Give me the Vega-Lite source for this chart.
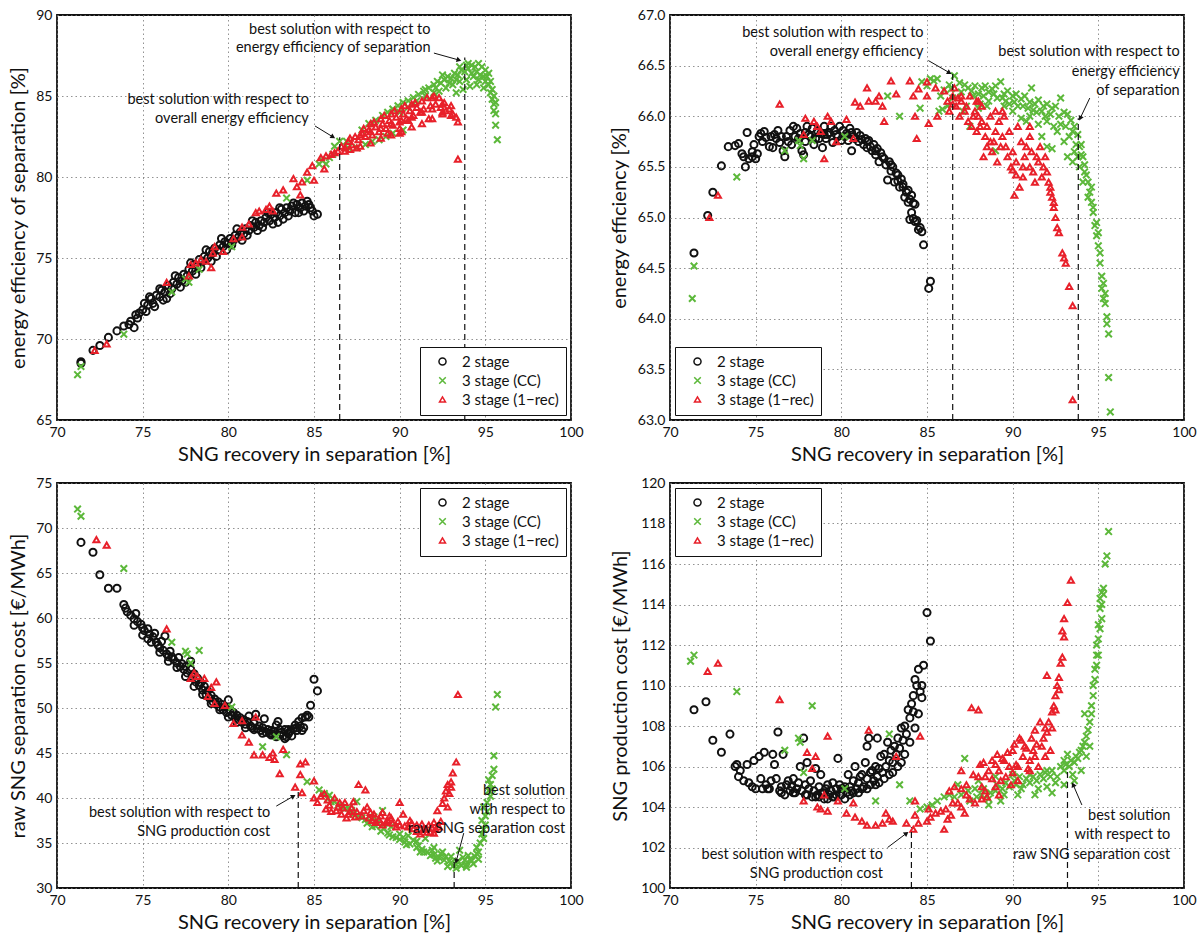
{
"$schema": "https://vega.github.io/schema/vega-lite/v6.json",
"padding": {"left": 7, "top": 7, "right": 0, "bottom": 0},
"spacing": 10,
"config": {
  "font": "Lato",
  "view": {"stroke": "#111", "strokeWidth": 1.8},
  "axis": {"domain": false, "ticks": false, "labelFont": "Lato", "labelFontSize": 14, "labelColor": "#111", "labelPadding": 5, "titleFont": "Lato", "titleFontSize": 20, "titleFontWeight": "normal", "titleColor": "#111", "gridColor": "#777", "gridDash": [1.5, 3], "gridWidth": 0.8, "labelOverlap": false, "labelFlush": false},
  "axisX": {"titlePadding": 5},
  "legend": {"strokeColor": "#111", "fillColor": "white", "padding": 7, "labelFont": "Lato", "labelFontSize": 15, "labelColor": "#111", "rowPadding": 3, "labelOffset": 12, "symbolOffset": 8, "offset": 5}
},
"datasets": {
"p1": [
{"s":"2 stage","x":71.4,"y":68.6},{"s":"2 stage","x":71.4,"y":68.5},{"s":"2 stage","x":72.1,"y":69.3},{"s":"2 stage","x":72.5,"y":69.6},{"s":"2 stage","x":73.0,"y":70.1},{"s":"2 stage","x":73.5,"y":70.5},{"s":"2 stage","x":73.9,"y":70.8},{"s":"2 stage","x":74.2,"y":70.9},{"s":"2 stage","x":74.5,"y":70.7},{"s":"2 stage","x":74.6,"y":71.5},{"s":"2 stage","x":74.8,"y":71.6},{"s":"2 stage","x":75.0,"y":71.8},{"s":"2 stage","x":75.1,"y":72.2},{"s":"2 stage","x":75.3,"y":72.1},{"s":"2 stage","x":75.5,"y":72.5},{"s":"2 stage","x":75.6,"y":72.2},{"s":"2 stage","x":75.8,"y":72.7},{"s":"2 stage","x":76.0,"y":72.6},{"s":"2 stage","x":76.1,"y":73.0},{"s":"2 stage","x":76.3,"y":72.9},{"s":"2 stage","x":76.4,"y":72.5},{"s":"2 stage","x":76.5,"y":73.3},{"s":"2 stage","x":76.7,"y":73.1},{"s":"2 stage","x":76.8,"y":73.5},{"s":"2 stage","x":77.0,"y":73.4},{"s":"2 stage","x":77.1,"y":73.8},{"s":"2 stage","x":77.3,"y":73.6},{"s":"2 stage","x":77.4,"y":74.0},{"s":"2 stage","x":77.6,"y":73.9},{"s":"2 stage","x":77.7,"y":74.3},{"s":"2 stage","x":77.9,"y":74.2},{"s":"2 stage","x":78.0,"y":74.6},{"s":"2 stage","x":78.2,"y":74.5},{"s":"2 stage","x":78.3,"y":74.9},{"s":"2 stage","x":78.5,"y":74.8},{"s":"2 stage","x":78.6,"y":75.1},{"s":"2 stage","x":78.8,"y":75.0},{"s":"2 stage","x":78.9,"y":75.4},{"s":"2 stage","x":79.1,"y":75.3},{"s":"2 stage","x":79.2,"y":75.6},{"s":"2 stage","x":79.4,"y":75.5},{"s":"2 stage","x":79.5,"y":75.8},{"s":"2 stage","x":79.7,"y":75.7},{"s":"2 stage","x":79.8,"y":76.0},{"s":"2 stage","x":80.0,"y":75.9},{"s":"2 stage","x":80.1,"y":76.2},{"s":"2 stage","x":80.3,"y":76.1},{"s":"2 stage","x":80.4,"y":76.4},{"s":"2 stage","x":80.6,"y":76.3},{"s":"2 stage","x":80.7,"y":76.6},{"s":"2 stage","x":80.9,"y":76.5},{"s":"2 stage","x":81.0,"y":76.8},{"s":"2 stage","x":81.2,"y":76.7},{"s":"2 stage","x":81.3,"y":77.0},{"s":"2 stage","x":81.5,"y":76.9},{"s":"2 stage","x":81.6,"y":77.2},{"s":"2 stage","x":81.8,"y":77.0},{"s":"2 stage","x":81.9,"y":77.3},{"s":"2 stage","x":82.1,"y":77.2},{"s":"2 stage","x":82.2,"y":77.5},{"s":"2 stage","x":82.4,"y":77.3},{"s":"2 stage","x":82.5,"y":77.7},{"s":"2 stage","x":82.7,"y":77.5},{"s":"2 stage","x":82.8,"y":77.8},{"s":"2 stage","x":82.9,"y":77.2},{"s":"2 stage","x":83.0,"y":77.6},{"s":"2 stage","x":83.1,"y":78.0},{"s":"2 stage","x":83.3,"y":77.8},{"s":"2 stage","x":83.4,"y":78.1},{"s":"2 stage","x":83.6,"y":77.9},{"s":"2 stage","x":83.7,"y":78.2},{"s":"2 stage","x":83.9,"y":77.8},{"s":"2 stage","x":84.0,"y":78.3},{"s":"2 stage","x":84.2,"y":78.1},{"s":"2 stage","x":84.3,"y":78.4},{"s":"2 stage","x":84.5,"y":78.2},{"s":"2 stage","x":84.6,"y":78.5},{"s":"2 stage","x":84.8,"y":78.1},{"s":"2 stage","x":84.9,"y":77.9},{"s":"2 stage","x":85.0,"y":77.6},{"s":"2 stage","x":85.2,"y":77.7},
{"s":"2 stage","x":74.3,"y":71.1},{"s":"2 stage","x":74.7,"y":71.3},{"s":"2 stage","x":75.2,"y":71.7},{"s":"2 stage","x":75.7,"y":72.0},{"s":"2 stage","x":76.2,"y":72.4},{"s":"2 stage","x":76.6,"y":72.8},{"s":"2 stage","x":77.2,"y":73.2},{"s":"2 stage","x":77.5,"y":73.5},{"s":"2 stage","x":78.1,"y":74.0},{"s":"2 stage","x":78.4,"y":74.4},{"s":"2 stage","x":79.0,"y":74.8},{"s":"2 stage","x":79.3,"y":75.1},{"s":"2 stage","x":79.9,"y":75.5},{"s":"2 stage","x":80.2,"y":75.8},{"s":"2 stage","x":80.8,"y":76.1},{"s":"2 stage","x":81.1,"y":76.4},{"s":"2 stage","x":81.7,"y":76.7},{"s":"2 stage","x":82.0,"y":76.9},{"s":"2 stage","x":82.6,"y":77.1},{"s":"2 stage","x":83.2,"y":77.4},{"s":"2 stage","x":83.5,"y":77.6},{"s":"2 stage","x":84.1,"y":77.8},{"s":"2 stage","x":84.4,"y":77.9},{"s":"2 stage","x":84.7,"y":78.3},{"s":"2 stage","x":83.8,"y":78.4},{"s":"2 stage","x":83.0,"y":78.1},{"s":"2 stage","x":82.3,"y":77.8},{"s":"2 stage","x":81.4,"y":77.3},{"s":"2 stage","x":80.5,"y":76.8},{"s":"2 stage","x":79.6,"y":76.2},{"s":"2 stage","x":78.7,"y":75.5},{"s":"2 stage","x":77.8,"y":74.7},{"s":"2 stage","x":76.9,"y":73.9},{"s":"2 stage","x":76.0,"y":73.1},{"s":"2 stage","x":75.4,"y":72.6},
{"s":"3 stage (CC)","x":71.2,"y":67.8},{"s":"3 stage (CC)","x":71.4,"y":68.3},{"s":"3 stage (CC)","x":73.9,"y":70.3},{"s":"3 stage (CC)","x":76.7,"y":72.9},{"s":"3 stage (CC)","x":77.5,"y":73.7},{"s":"3 stage (CC)","x":77.7,"y":73.5},{"s":"3 stage (CC)","x":78.3,"y":74.3},{"s":"3 stage (CC)","x":80.2,"y":75.7},{"s":"3 stage (CC)","x":83.4,"y":78.7},{"s":"3 stage (CC)","x":84.6,"y":79.8},{"s":"3 stage (CC)","x":85.3,"y":80.8},{"s":"3 stage (CC)","x":85.5,"y":81.0},{"s":"3 stage (CC)","x":85.7,"y":80.8},{"s":"3 stage (CC)","x":85.9,"y":81.2},{"s":"3 stage (CC)","x":86.1,"y":81.4},{"s":"3 stage (CC)","x":86.5,"y":82.2},{"s":"3 stage (CC)","x":87.0,"y":81.8},{"s":"3 stage (CC)","x":87.5,"y":81.8},{"s":"3 stage (CC)","x":88.0,"y":82.0},{"s":"3 stage (CC)","x":88.4,"y":82.2},{"s":"3 stage (CC)","x":88.8,"y":82.3},{"s":"3 stage (CC)","x":89.2,"y":82.5},{"s":"3 stage (CC)","x":89.6,"y":82.7},{"s":"3 stage (CC)","x":89.0,"y":83.8},{"s":"3 stage (CC)","x":89.3,"y":84.0},{"s":"3 stage (CC)","x":89.6,"y":84.2},{"s":"3 stage (CC)","x":89.9,"y":84.4},{"s":"3 stage (CC)","x":90.2,"y":84.6},{"s":"3 stage (CC)","x":90.5,"y":84.7},{"s":"3 stage (CC)","x":90.8,"y":84.9},{"s":"3 stage (CC)","x":91.1,"y":85.1},{"s":"3 stage (CC)","x":91.4,"y":85.3},{"s":"3 stage (CC)","x":91.7,"y":85.5},{"s":"3 stage (CC)","x":92.0,"y":85.7},{"s":"3 stage (CC)","x":92.2,"y":85.9},{"s":"3 stage (CC)","x":92.4,"y":85.8},{"s":"3 stage (CC)","x":92.6,"y":86.0},{"s":"3 stage (CC)","x":92.8,"y":86.2},{"s":"3 stage (CC)","x":93.0,"y":86.1},{"s":"3 stage (CC)","x":93.2,"y":86.4},{"s":"3 stage (CC)","x":93.4,"y":86.3},{"s":"3 stage (CC)","x":93.6,"y":86.6},{"s":"3 stage (CC)","x":93.8,"y":86.5},{"s":"3 stage (CC)","x":94.0,"y":86.7},{"s":"3 stage (CC)","x":94.2,"y":86.9},{"s":"3 stage (CC)","x":94.4,"y":86.8},{"s":"3 stage (CC)","x":94.6,"y":87.0},{"s":"3 stage (CC)","x":94.8,"y":86.8},{"s":"3 stage (CC)","x":95.0,"y":86.6},{"s":"3 stage (CC)","x":95.1,"y":86.2},{"s":"3 stage (CC)","x":92.3,"y":85.3},{"s":"3 stage (CC)","x":92.7,"y":85.5},{"s":"3 stage (CC)","x":93.1,"y":85.7},{"s":"3 stage (CC)","x":93.5,"y":85.9},{"s":"3 stage (CC)","x":93.9,"y":86.0},{"s":"3 stage (CC)","x":94.3,"y":86.2},{"s":"3 stage (CC)","x":94.7,"y":86.3},{"s":"3 stage (CC)","x":95.0,"y":85.9},{"s":"3 stage (CC)","x":93.3,"y":85.2},{"s":"3 stage (CC)","x":93.7,"y":85.4},{"s":"3 stage (CC)","x":94.1,"y":85.6},{"s":"3 stage (CC)","x":94.5,"y":85.7},{"s":"3 stage (CC)","x":94.9,"y":85.5},{"s":"3 stage (CC)","x":95.2,"y":85.7},{"s":"3 stage (CC)","x":95.3,"y":85.2},{"s":"3 stage (CC)","x":95.4,"y":84.8},{"s":"3 stage (CC)","x":95.5,"y":84.5},{"s":"3 stage (CC)","x":95.5,"y":84.1},{"s":"3 stage (CC)","x":95.6,"y":83.9},{"s":"3 stage (CC)","x":95.6,"y":83.2},{"s":"3 stage (CC)","x":95.7,"y":82.3},{"s":"3 stage (CC)","x":92.0,"y":85.2},{"s":"3 stage (CC)","x":91.5,"y":85.0},{"s":"3 stage (CC)","x":91.0,"y":84.7},{"s":"3 stage (CC)","x":90.5,"y":84.3},{"s":"3 stage (CC)","x":90.0,"y":84.0},
{"s":"3 stage (CC)","x":91.5,"y":85.4},{"s":"3 stage (CC)","x":92.5,"y":86.3},{"s":"3 stage (CC)","x":93.5,"y":86.8},{"s":"3 stage (CC)","x":94.0,"y":87.0},{"s":"3 stage (CC)","x":93.9,"y":86.9},{"s":"3 stage (CC)","x":94.5,"y":86.5},{"s":"3 stage (CC)","x":94.9,"y":86.2},{"s":"3 stage (CC)","x":95.2,"y":86.4},{"s":"3 stage (CC)","x":95.3,"y":85.9},{"s":"3 stage (CC)","x":95.4,"y":85.4},{"s":"3 stage (CC)","x":95.5,"y":85.0},{"s":"3 stage (CC)","x":95.6,"y":84.6},{"s":"3 stage (CC)","x":92.9,"y":85.8},{"s":"3 stage (CC)","x":93.3,"y":86.0},{"s":"3 stage (CC)","x":94.2,"y":86.4},{"s":"3 stage (CC)","x":94.6,"y":86.0},{"s":"3 stage (CC)","x":92.1,"y":85.5},{"s":"3 stage (CC)","x":88.6,"y":83.5},{"s":"3 stage (CC)","x":88.2,"y":83.3},{"s":"3 stage (CC)","x":87.8,"y":82.9},{"s":"3 stage (CC)","x":86.9,"y":82.2},{"s":"3 stage (CC)","x":90.2,"y":82.9},{"s":"3 stage (CC)","x":86.2,"y":81.9},
{"s":"3 stage (1−rec)","x":72.2,"y":69.3},{"s":"3 stage (1−rec)","x":72.9,"y":69.7},{"s":"3 stage (1−rec)","x":76.4,"y":73.5},{"s":"3 stage (1−rec)","x":77.7,"y":73.9},{"s":"3 stage (1−rec)","x":77.8,"y":74.6},{"s":"3 stage (1−rec)","x":78.1,"y":74.7},{"s":"3 stage (1−rec)","x":78.4,"y":74.9},{"s":"3 stage (1−rec)","x":78.7,"y":74.8},{"s":"3 stage (1−rec)","x":79.0,"y":74.4},{"s":"3 stage (1−rec)","x":79.1,"y":75.3},{"s":"3 stage (1−rec)","x":79.2,"y":75.7},{"s":"3 stage (1−rec)","x":79.7,"y":75.4},{"s":"3 stage (1−rec)","x":80.3,"y":76.2},{"s":"3 stage (1−rec)","x":80.8,"y":76.3},{"s":"3 stage (1−rec)","x":80.8,"y":76.9},{"s":"3 stage (1−rec)","x":81.2,"y":77.1},{"s":"3 stage (1−rec)","x":81.6,"y":77.8},{"s":"3 stage (1−rec)","x":81.8,"y":77.9},{"s":"3 stage (1−rec)","x":82.2,"y":78.0},{"s":"3 stage (1−rec)","x":82.4,"y":78.2},{"s":"3 stage (1−rec)","x":82.6,"y":77.9},{"s":"3 stage (1−rec)","x":82.8,"y":79.0},{"s":"3 stage (1−rec)","x":83.2,"y":79.2},{"s":"3 stage (1−rec)","x":83.8,"y":79.9},{"s":"3 stage (1−rec)","x":84.0,"y":79.4},{"s":"3 stage (1−rec)","x":84.2,"y":78.9},{"s":"3 stage (1−rec)","x":84.3,"y":79.7},{"s":"3 stage (1−rec)","x":84.6,"y":80.3},{"s":"3 stage (1−rec)","x":84.9,"y":80.7},{"s":"3 stage (1−rec)","x":85.0,"y":79.8},{"s":"3 stage (1−rec)","x":85.4,"y":81.2},{"s":"3 stage (1−rec)","x":85.6,"y":80.5},{"s":"3 stage (1−rec)","x":85.7,"y":81.3},{"s":"3 stage (1−rec)","x":86.0,"y":81.4},{"s":"3 stage (1−rec)","x":86.2,"y":81.5},{"s":"3 stage (1−rec)","x":86.4,"y":81.6},{"s":"3 stage (1−rec)","x":86.6,"y":81.9},{"s":"3 stage (1−rec)","x":86.8,"y":81.8},{"s":"3 stage (1−rec)","x":87.0,"y":82.2},{"s":"3 stage (1−rec)","x":87.2,"y":82.0},{"s":"3 stage (1−rec)","x":87.4,"y":82.5},{"s":"3 stage (1−rec)","x":87.6,"y":82.3},{"s":"3 stage (1−rec)","x":87.8,"y":82.7},{"s":"3 stage (1−rec)","x":88.0,"y":82.5},{"s":"3 stage (1−rec)","x":88.2,"y":82.9},{"s":"3 stage (1−rec)","x":88.4,"y":82.6},{"s":"3 stage (1−rec)","x":88.6,"y":83.1},{"s":"3 stage (1−rec)","x":88.8,"y":82.8},{"s":"3 stage (1−rec)","x":89.0,"y":83.3},{"s":"3 stage (1−rec)","x":89.2,"y":83.0},{"s":"3 stage (1−rec)","x":89.4,"y":83.5},{"s":"3 stage (1−rec)","x":89.6,"y":83.2},{"s":"3 stage (1−rec)","x":89.8,"y":83.7},{"s":"3 stage (1−rec)","x":90.0,"y":83.4},{"s":"3 stage (1−rec)","x":90.0,"y":82.7},{"s":"3 stage (1−rec)","x":90.0,"y":83.0},{"s":"3 stage (1−rec)","x":90.2,"y":83.9},{"s":"3 stage (1−rec)","x":90.4,"y":83.6},{"s":"3 stage (1−rec)","x":90.5,"y":83.5},{"s":"3 stage (1−rec)","x":90.6,"y":84.1},{"s":"3 stage (1−rec)","x":90.8,"y":83.8},{"s":"3 stage (1−rec)","x":91.0,"y":84.3},{"s":"3 stage (1−rec)","x":91.2,"y":84.0},{"s":"3 stage (1−rec)","x":91.3,"y":84.7},{"s":"3 stage (1−rec)","x":91.4,"y":84.2},{"s":"3 stage (1−rec)","x":91.6,"y":84.9},{"s":"3 stage (1−rec)","x":91.8,"y":84.4},{"s":"3 stage (1−rec)","x":92.0,"y":85.0},{"s":"3 stage (1−rec)","x":92.1,"y":84.5},{"s":"3 stage (1−rec)","x":92.3,"y":84.9},{"s":"3 stage (1−rec)","x":92.4,"y":84.3},{"s":"3 stage (1−rec)","x":92.6,"y":84.6},{"s":"3 stage (1−rec)","x":92.7,"y":84.1},{"s":"3 stage (1−rec)","x":92.9,"y":84.2},{"s":"3 stage (1−rec)","x":93.1,"y":83.9},{"s":"3 stage (1−rec)","x":93.3,"y":83.7},{"s":"3 stage (1−rec)","x":93.4,"y":83.4},{"s":"3 stage (1−rec)","x":93.4,"y":81.1},{"s":"3 stage (1−rec)","x":87.9,"y":83.0},{"s":"3 stage (1−rec)","x":88.5,"y":83.4},{"s":"3 stage (1−rec)","x":89.1,"y":83.8},{"s":"3 stage (1−rec)","x":89.7,"y":84.1},{"s":"3 stage (1−rec)","x":90.3,"y":84.4},{"s":"3 stage (1−rec)","x":90.9,"y":84.6},{"s":"3 stage (1−rec)","x":87.5,"y":81.8},{"s":"3 stage (1−rec)","x":88.3,"y":82.1},{"s":"3 stage (1−rec)","x":89.3,"y":82.7},{"s":"3 stage (1−rec)","x":90.7,"y":83.1},{"s":"3 stage (1−rec)","x":91.7,"y":83.6},{"s":"3 stage (1−rec)","x":92.5,"y":83.9},
{"s":"3 stage (1−rec)","x":86.8,"y":81.6},{"s":"3 stage (1−rec)","x":87.1,"y":81.7},{"s":"3 stage (1−rec)","x":87.1,"y":82.4},{"s":"3 stage (1−rec)","x":87.7,"y":81.9},{"s":"3 stage (1−rec)","x":87.7,"y":82.6},{"s":"3 stage (1−rec)","x":88.3,"y":82.8},{"s":"3 stage (1−rec)","x":88.3,"y":83.3},{"s":"3 stage (1−rec)","x":88.9,"y":82.4},{"s":"3 stage (1−rec)","x":88.9,"y":83.0},{"s":"3 stage (1−rec)","x":88.9,"y":83.6},{"s":"3 stage (1−rec)","x":89.5,"y":82.6},{"s":"3 stage (1−rec)","x":89.5,"y":83.3},{"s":"3 stage (1−rec)","x":89.5,"y":83.9},{"s":"3 stage (1−rec)","x":90.1,"y":82.8},{"s":"3 stage (1−rec)","x":90.1,"y":83.5},{"s":"3 stage (1−rec)","x":90.1,"y":84.2},{"s":"3 stage (1−rec)","x":90.7,"y":83.7},{"s":"3 stage (1−rec)","x":90.7,"y":84.5},{"s":"3 stage (1−rec)","x":91.3,"y":83.3},{"s":"3 stage (1−rec)","x":91.3,"y":84.0},{"s":"3 stage (1−rec)","x":91.9,"y":83.6},{"s":"3 stage (1−rec)","x":91.9,"y":84.2},{"s":"3 stage (1−rec)","x":91.9,"y":84.9},{"s":"3 stage (1−rec)","x":92.5,"y":84.0},{"s":"3 stage (1−rec)","x":92.5,"y":84.5},{"s":"3 stage (1−rec)","x":93.0,"y":83.8},{"s":"3 stage (1−rec)","x":93.0,"y":84.4}
],
"p2": [
{"s":"2 stage","x":71.4,"y":64.65},{"s":"2 stage","x":72.2,"y":65.02},{"s":"2 stage","x":72.5,"y":65.25},{"s":"2 stage","x":73.0,"y":65.51},{"s":"2 stage","x":73.4,"y":65.7},{"s":"2 stage","x":73.8,"y":65.71},{"s":"2 stage","x":74.0,"y":65.73},{"s":"2 stage","x":74.2,"y":65.63},{"s":"2 stage","x":74.4,"y":65.5},{"s":"2 stage","x":74.5,"y":65.84},{"s":"2 stage","x":74.6,"y":65.58},{"s":"2 stage","x":74.8,"y":65.65},{"s":"2 stage","x":74.9,"y":65.72},{"s":"2 stage","x":75.0,"y":65.58},{"s":"2 stage","x":75.1,"y":65.63},{"s":"2 stage","x":75.2,"y":65.8},{"s":"2 stage","x":75.3,"y":65.83},{"s":"2 stage","x":75.5,"y":65.85},{"s":"2 stage","x":75.6,"y":65.79},{"s":"2 stage","x":75.8,"y":65.7},{"s":"2 stage","x":76.0,"y":65.69},{"s":"2 stage","x":76.1,"y":65.82},{"s":"2 stage","x":76.3,"y":65.86},{"s":"2 stage","x":76.4,"y":65.74},{"s":"2 stage","x":76.6,"y":65.66},{"s":"2 stage","x":76.7,"y":65.6},{"s":"2 stage","x":76.8,"y":65.8},{"s":"2 stage","x":77.0,"y":65.86},{"s":"2 stage","x":77.1,"y":65.72},{"s":"2 stage","x":77.2,"y":65.9},{"s":"2 stage","x":77.4,"y":65.88},{"s":"2 stage","x":77.5,"y":65.78},{"s":"2 stage","x":77.6,"y":65.83},{"s":"2 stage","x":77.7,"y":65.66},{"s":"2 stage","x":77.8,"y":65.62},{"s":"2 stage","x":77.9,"y":65.75},{"s":"2 stage","x":78.0,"y":65.9},{"s":"2 stage","x":78.1,"y":65.82},{"s":"2 stage","x":78.3,"y":65.88},{"s":"2 stage","x":78.4,"y":65.72},{"s":"2 stage","x":78.5,"y":65.78},{"s":"2 stage","x":78.6,"y":65.86},{"s":"2 stage","x":78.8,"y":65.83},{"s":"2 stage","x":78.9,"y":65.69},{"s":"2 stage","x":79.0,"y":65.9},{"s":"2 stage","x":79.1,"y":65.78},{"s":"2 stage","x":79.3,"y":65.84},{"s":"2 stage","x":79.4,"y":65.9},{"s":"2 stage","x":79.5,"y":65.74},{"s":"2 stage","x":79.6,"y":65.86},{"s":"2 stage","x":79.8,"y":65.8},{"s":"2 stage","x":79.9,"y":65.9},{"s":"2 stage","x":80.0,"y":65.76},{"s":"2 stage","x":80.1,"y":65.86},{"s":"2 stage","x":80.3,"y":65.83},{"s":"2 stage","x":80.4,"y":65.76},{"s":"2 stage","x":80.5,"y":65.88},{"s":"2 stage","x":80.6,"y":65.66},{"s":"2 stage","x":80.7,"y":65.8},{"s":"2 stage","x":80.9,"y":65.84},{"s":"2 stage","x":81.0,"y":65.75},{"s":"2 stage","x":81.1,"y":65.81},{"s":"2 stage","x":81.3,"y":65.72},{"s":"2 stage","x":81.4,"y":65.78},{"s":"2 stage","x":81.5,"y":65.69},{"s":"2 stage","x":81.6,"y":65.76},{"s":"2 stage","x":81.8,"y":65.66},{"s":"2 stage","x":81.9,"y":65.72},{"s":"2 stage","x":82.0,"y":65.62},{"s":"2 stage","x":82.1,"y":65.68},{"s":"2 stage","x":82.2,"y":65.55},{"s":"2 stage","x":82.3,"y":65.64},{"s":"2 stage","x":82.5,"y":65.58},{"s":"2 stage","x":82.6,"y":65.52},{"s":"2 stage","x":82.7,"y":65.37},{"s":"2 stage","x":82.8,"y":65.55},{"s":"2 stage","x":82.9,"y":65.46},{"s":"2 stage","x":83.0,"y":65.5},{"s":"2 stage","x":83.1,"y":65.35},{"s":"2 stage","x":83.2,"y":65.44},{"s":"2 stage","x":83.3,"y":65.42},{"s":"2 stage","x":83.4,"y":65.3},{"s":"2 stage","x":83.5,"y":65.38},{"s":"2 stage","x":83.6,"y":65.3},{"s":"2 stage","x":83.7,"y":65.2},{"s":"2 stage","x":83.8,"y":65.25},{"s":"2 stage","x":83.9,"y":65.27},{"s":"2 stage","x":84.0,"y":65.18},{"s":"2 stage","x":84.1,"y":65.22},{"s":"2 stage","x":84.2,"y":65.14},{"s":"2 stage","x":84.3,"y":65.13},{"s":"2 stage","x":84.0,"y":64.98},{"s":"2 stage","x":84.2,"y":64.99},{"s":"2 stage","x":84.3,"y":64.96},{"s":"2 stage","x":84.4,"y":64.97},{"s":"2 stage","x":84.5,"y":64.88},{"s":"2 stage","x":84.6,"y":64.9},{"s":"2 stage","x":84.7,"y":64.86},{"s":"2 stage","x":84.8,"y":64.73},{"s":"2 stage","x":85.1,"y":64.3},{"s":"2 stage","x":85.2,"y":64.37},
{"s":"2 stage","x":75.4,"y":65.75},{"s":"2 stage","x":76.2,"y":65.78},{"s":"2 stage","x":76.9,"y":65.75},{"s":"2 stage","x":77.3,"y":65.8},{"s":"2 stage","x":78.2,"y":65.8},{"s":"2 stage","x":78.7,"y":65.78},{"s":"2 stage","x":79.2,"y":65.82},{"s":"2 stage","x":79.7,"y":65.82},{"s":"2 stage","x":80.2,"y":65.8},{"s":"2 stage","x":80.8,"y":65.78},{"s":"2 stage","x":81.2,"y":65.77},{"s":"2 stage","x":81.7,"y":65.7},{"s":"2 stage","x":82.4,"y":65.6},{"s":"2 stage","x":82.9,"y":65.52},{"s":"2 stage","x":83.3,"y":65.36},{"s":"2 stage","x":83.6,"y":65.33},{"s":"2 stage","x":83.9,"y":65.15},{"s":"2 stage","x":84.1,"y":65.05},{"s":"2 stage","x":80.6,"y":65.84},{"s":"2 stage","x":81.5,"y":65.75},{"s":"2 stage","x":82.0,"y":65.66},{"s":"2 stage","x":79.0,"y":65.82},{"s":"2 stage","x":77.9,"y":65.84},{"s":"2 stage","x":76.5,"y":65.8},{"s":"2 stage","x":75.9,"y":65.8},{"s":"2 stage","x":74.8,"y":65.6},{"s":"2 stage","x":74.3,"y":65.6},
{"s":"3 stage (CC)","x":71.3,"y":64.2},{"s":"3 stage (CC)","x":71.4,"y":64.52},{"s":"3 stage (CC)","x":73.9,"y":65.4},{"s":"3 stage (CC)","x":76.7,"y":65.66},{"s":"3 stage (CC)","x":77.5,"y":65.76},{"s":"3 stage (CC)","x":77.6,"y":65.71},{"s":"3 stage (CC)","x":77.8,"y":65.58},{"s":"3 stage (CC)","x":78.3,"y":65.76},{"s":"3 stage (CC)","x":80.2,"y":65.8},{"s":"3 stage (CC)","x":82.7,"y":66.2},{"s":"3 stage (CC)","x":83.4,"y":66.0},{"s":"3 stage (CC)","x":84.6,"y":66.08},{"s":"3 stage (CC)","x":84.7,"y":66.34},{"s":"3 stage (CC)","x":85.0,"y":66.3},{"s":"3 stage (CC)","x":85.2,"y":66.37},{"s":"3 stage (CC)","x":85.4,"y":66.35},{"s":"3 stage (CC)","x":85.6,"y":66.37},{"s":"3 stage (CC)","x":85.8,"y":66.2},{"s":"3 stage (CC)","x":85.9,"y":66.07},{"s":"3 stage (CC)","x":86.0,"y":66.26},{"s":"3 stage (CC)","x":86.3,"y":66.31},{"s":"3 stage (CC)","x":86.6,"y":66.4},{"s":"3 stage (CC)","x":86.9,"y":66.33},{"s":"3 stage (CC)","x":87.2,"y":66.31},{"s":"3 stage (CC)","x":87.4,"y":66.28},{"s":"3 stage (CC)","x":87.6,"y":66.25},{"s":"3 stage (CC)","x":87.8,"y":66.3},{"s":"3 stage (CC)","x":88.0,"y":66.22},{"s":"3 stage (CC)","x":88.2,"y":66.28},{"s":"3 stage (CC)","x":88.4,"y":66.3},{"s":"3 stage (CC)","x":88.6,"y":66.24},{"s":"3 stage (CC)","x":88.8,"y":66.27},{"s":"3 stage (CC)","x":89.0,"y":66.3},{"s":"3 stage (CC)","x":89.3,"y":66.34},{"s":"3 stage (CC)","x":89.5,"y":66.22},{"s":"3 stage (CC)","x":89.7,"y":66.25},{"s":"3 stage (CC)","x":90.0,"y":66.2},{"s":"3 stage (CC)","x":90.2,"y":66.22},{"s":"3 stage (CC)","x":90.5,"y":66.17},{"s":"3 stage (CC)","x":90.7,"y":66.2},{"s":"3 stage (CC)","x":91.0,"y":66.14},{"s":"3 stage (CC)","x":91.1,"y":66.28},{"s":"3 stage (CC)","x":91.3,"y":66.12},{"s":"3 stage (CC)","x":91.5,"y":66.16},{"s":"3 stage (CC)","x":91.8,"y":66.1},{"s":"3 stage (CC)","x":92.0,"y":66.12},{"s":"3 stage (CC)","x":92.3,"y":66.08},{"s":"3 stage (CC)","x":92.5,"y":66.1},{"s":"3 stage (CC)","x":92.8,"y":66.18},{"s":"3 stage (CC)","x":93.0,"y":66.04},{"s":"3 stage (CC)","x":93.2,"y":66.02},{"s":"3 stage (CC)","x":93.4,"y":65.96},{"s":"3 stage (CC)","x":93.6,"y":65.9},{"s":"3 stage (CC)","x":93.8,"y":65.82},{"s":"3 stage (CC)","x":94.0,"y":65.72},{"s":"3 stage (CC)","x":94.1,"y":65.6},{"s":"3 stage (CC)","x":94.2,"y":65.52},{"s":"3 stage (CC)","x":94.3,"y":65.42},{"s":"3 stage (CC)","x":94.4,"y":65.35},{"s":"3 stage (CC)","x":94.5,"y":65.25},{"s":"3 stage (CC)","x":94.6,"y":65.15},{"s":"3 stage (CC)","x":94.7,"y":65.05},{"s":"3 stage (CC)","x":94.8,"y":64.92},{"s":"3 stage (CC)","x":94.9,"y":64.82},{"s":"3 stage (CC)","x":95.0,"y":64.72},{"s":"3 stage (CC)","x":95.1,"y":64.55},{"s":"3 stage (CC)","x":95.2,"y":64.42},{"s":"3 stage (CC)","x":95.2,"y":64.3},{"s":"3 stage (CC)","x":95.3,"y":64.2},{"s":"3 stage (CC)","x":95.4,"y":64.15},{"s":"3 stage (CC)","x":95.5,"y":64.02},{"s":"3 stage (CC)","x":95.5,"y":63.95},{"s":"3 stage (CC)","x":95.6,"y":63.85},{"s":"3 stage (CC)","x":95.6,"y":63.42},{"s":"3 stage (CC)","x":95.7,"y":63.08},{"s":"3 stage (CC)","x":87.5,"y":65.9},{"s":"3 stage (CC)","x":88.0,"y":66.08},{"s":"3 stage (CC)","x":88.5,"y":66.1},{"s":"3 stage (CC)","x":89.0,"y":65.66},{"s":"3 stage (CC)","x":89.5,"y":66.1},{"s":"3 stage (CC)","x":90.0,"y":66.05},{"s":"3 stage (CC)","x":90.5,"y":65.98},{"s":"3 stage (CC)","x":91.0,"y":66.0},{"s":"3 stage (CC)","x":91.5,"y":65.92},{"s":"3 stage (CC)","x":92.0,"y":65.95},{"s":"3 stage (CC)","x":92.3,"y":65.68},{"s":"3 stage (CC)","x":92.6,"y":65.85},{"s":"3 stage (CC)","x":93.0,"y":65.75},{"s":"3 stage (CC)","x":93.2,"y":65.6},{"s":"3 stage (CC)","x":93.5,"y":65.55},{"s":"3 stage (CC)","x":93.7,"y":65.72},{"s":"3 stage (CC)","x":93.9,"y":65.5},{"s":"3 stage (CC)","x":94.1,"y":65.35},{"s":"3 stage (CC)","x":92.0,"y":65.7},{"s":"3 stage (CC)","x":91.7,"y":65.8},{"s":"3 stage (CC)","x":90.8,"y":65.95},{"s":"3 stage (CC)","x":89.8,"y":66.12},{"s":"3 stage (CC)","x":86.5,"y":66.18},{"s":"3 stage (CC)","x":87.1,"y":66.05},{"s":"3 stage (CC)","x":86.2,"y":66.1},{"s":"3 stage (CC)","x":85.7,"y":66.05},
{"s":"3 stage (CC)","x":86.4,"y":66.27},{"s":"3 stage (CC)","x":87.0,"y":66.24},{"s":"3 stage (CC)","x":87.7,"y":66.2},{"s":"3 stage (CC)","x":88.3,"y":66.2},{"s":"3 stage (CC)","x":88.9,"y":66.22},{"s":"3 stage (CC)","x":89.4,"y":66.18},{"s":"3 stage (CC)","x":90.1,"y":66.14},{"s":"3 stage (CC)","x":90.6,"y":66.1},{"s":"3 stage (CC)","x":91.2,"y":66.06},{"s":"3 stage (CC)","x":91.7,"y":66.05},{"s":"3 stage (CC)","x":92.2,"y":66.02},{"s":"3 stage (CC)","x":92.7,"y":66.0},{"s":"3 stage (CC)","x":93.1,"y":65.9},{"s":"3 stage (CC)","x":93.5,"y":65.85},{"s":"3 stage (CC)","x":93.9,"y":65.7},{"s":"3 stage (CC)","x":94.0,"y":65.62},{"s":"3 stage (CC)","x":93.6,"y":65.65},{"s":"3 stage (CC)","x":93.3,"y":65.8},{"s":"3 stage (CC)","x":92.8,"y":65.92},{"s":"3 stage (CC)","x":92.4,"y":65.9},{"s":"3 stage (CC)","x":91.9,"y":66.0},{"s":"3 stage (CC)","x":91.4,"y":66.04},{"s":"3 stage (CC)","x":90.9,"y":66.08},{"s":"3 stage (CC)","x":90.3,"y":66.1},{"s":"3 stage (CC)","x":89.6,"y":66.15},{"s":"3 stage (CC)","x":89.1,"y":66.18},{"s":"3 stage (CC)","x":88.6,"y":66.15},{"s":"3 stage (CC)","x":88.1,"y":66.12},{"s":"3 stage (CC)","x":87.3,"y":66.1},{"s":"3 stage (CC)","x":94.2,"y":65.45},{"s":"3 stage (CC)","x":94.4,"y":65.2},{"s":"3 stage (CC)","x":94.6,"y":65.3},{"s":"3 stage (CC)","x":94.7,"y":65.1},{"s":"3 stage (CC)","x":94.9,"y":64.95},{"s":"3 stage (CC)","x":95.0,"y":64.85},{"s":"3 stage (CC)","x":95.1,"y":64.65},{"s":"3 stage (CC)","x":95.3,"y":64.35},{"s":"3 stage (CC)","x":95.4,"y":64.25},{"s":"3 stage (CC)","x":93.8,"y":65.6},
{"s":"3 stage (1−rec)","x":72.3,"y":65.0},{"s":"3 stage (1−rec)","x":72.8,"y":65.22},{"s":"3 stage (1−rec)","x":76.4,"y":66.12},{"s":"3 stage (1−rec)","x":77.8,"y":65.82},{"s":"3 stage (1−rec)","x":77.9,"y":65.98},{"s":"3 stage (1−rec)","x":78.4,"y":65.95},{"s":"3 stage (1−rec)","x":78.6,"y":65.9},{"s":"3 stage (1−rec)","x":78.8,"y":65.85},{"s":"3 stage (1−rec)","x":79.0,"y":65.58},{"s":"3 stage (1−rec)","x":79.2,"y":66.0},{"s":"3 stage (1−rec)","x":79.4,"y":65.95},{"s":"3 stage (1−rec)","x":79.7,"y":65.75},{"s":"3 stage (1−rec)","x":80.3,"y":65.97},{"s":"3 stage (1−rec)","x":80.7,"y":65.78},{"s":"3 stage (1−rec)","x":80.8,"y":66.14},{"s":"3 stage (1−rec)","x":81.1,"y":66.1},{"s":"3 stage (1−rec)","x":81.5,"y":66.28},{"s":"3 stage (1−rec)","x":81.6,"y":66.15},{"s":"3 stage (1−rec)","x":82.0,"y":66.15},{"s":"3 stage (1−rec)","x":82.2,"y":66.2},{"s":"3 stage (1−rec)","x":82.4,"y":66.1},{"s":"3 stage (1−rec)","x":82.5,"y":65.95},{"s":"3 stage (1−rec)","x":82.9,"y":66.35},{"s":"3 stage (1−rec)","x":83.2,"y":66.22},{"s":"3 stage (1−rec)","x":84.0,"y":66.35},{"s":"3 stage (1−rec)","x":84.2,"y":66.2},{"s":"3 stage (1−rec)","x":84.3,"y":66.0},{"s":"3 stage (1−rec)","x":84.4,"y":65.78},{"s":"3 stage (1−rec)","x":84.5,"y":66.27},{"s":"3 stage (1−rec)","x":85.0,"y":66.34},{"s":"3 stage (1−rec)","x":85.0,"y":66.2},{"s":"3 stage (1−rec)","x":85.1,"y":65.93},{"s":"3 stage (1−rec)","x":85.5,"y":66.28},{"s":"3 stage (1−rec)","x":85.6,"y":66.0},{"s":"3 stage (1−rec)","x":86.0,"y":66.25},{"s":"3 stage (1−rec)","x":86.3,"y":66.05},{"s":"3 stage (1−rec)","x":86.5,"y":66.2},{"s":"3 stage (1−rec)","x":86.8,"y":66.18},{"s":"3 stage (1−rec)","x":87.0,"y":66.15},{"s":"3 stage (1−rec)","x":87.3,"y":66.1},{"s":"3 stage (1−rec)","x":87.5,"y":66.2},{"s":"3 stage (1−rec)","x":87.6,"y":65.9},{"s":"3 stage (1−rec)","x":87.8,"y":66.05},{"s":"3 stage (1−rec)","x":88.0,"y":66.0},{"s":"3 stage (1−rec)","x":88.2,"y":65.95},{"s":"3 stage (1−rec)","x":88.5,"y":65.9},{"s":"3 stage (1−rec)","x":88.7,"y":65.75},{"s":"3 stage (1−rec)","x":88.8,"y":65.65},{"s":"3 stage (1−rec)","x":89.0,"y":65.85},{"s":"3 stage (1−rec)","x":89.2,"y":65.95},{"s":"3 stage (1−rec)","x":89.4,"y":65.8},{"s":"3 stage (1−rec)","x":89.6,"y":65.7},{"s":"3 stage (1−rec)","x":89.8,"y":65.85},{"s":"3 stage (1−rec)","x":90.0,"y":65.65},{"s":"3 stage (1−rec)","x":90.0,"y":65.47},{"s":"3 stage (1−rec)","x":90.1,"y":65.22},{"s":"3 stage (1−rec)","x":90.2,"y":65.42},{"s":"3 stage (1−rec)","x":90.5,"y":65.75},{"s":"3 stage (1−rec)","x":90.7,"y":65.6},{"s":"3 stage (1−rec)","x":91.0,"y":65.8},{"s":"3 stage (1−rec)","x":91.0,"y":65.5},{"s":"3 stage (1−rec)","x":91.2,"y":65.45},{"s":"3 stage (1−rec)","x":91.4,"y":65.6},{"s":"3 stage (1−rec)","x":91.5,"y":65.55},{"s":"3 stage (1−rec)","x":91.8,"y":65.5},{"s":"3 stage (1−rec)","x":92.0,"y":65.45},{"s":"3 stage (1−rec)","x":92.2,"y":65.3},{"s":"3 stage (1−rec)","x":92.3,"y":65.2},{"s":"3 stage (1−rec)","x":92.4,"y":65.1},{"s":"3 stage (1−rec)","x":92.5,"y":65.0},{"s":"3 stage (1−rec)","x":92.6,"y":64.9},{"s":"3 stage (1−rec)","x":92.7,"y":64.85},{"s":"3 stage (1−rec)","x":92.9,"y":64.65},{"s":"3 stage (1−rec)","x":93.0,"y":64.6},{"s":"3 stage (1−rec)","x":93.1,"y":64.55},{"s":"3 stage (1−rec)","x":93.3,"y":64.32},{"s":"3 stage (1−rec)","x":93.5,"y":64.13},{"s":"3 stage (1−rec)","x":93.5,"y":63.2},{"s":"3 stage (1−rec)","x":92.2,"y":65.25},{"s":"3 stage (1−rec)","x":92.4,"y":65.15},{"s":"3 stage (1−rec)","x":88.2,"y":66.1},{"s":"3 stage (1−rec)","x":87.0,"y":66.2},{"s":"3 stage (1−rec)","x":86.5,"y":66.12},{"s":"3 stage (1−rec)","x":89.5,"y":66.0},{"s":"3 stage (1−rec)","x":90.3,"y":65.9},{"s":"3 stage (1−rec)","x":91.0,"y":65.9},{"s":"3 stage (1−rec)","x":88.0,"y":66.15},{"s":"3 stage (1−rec)","x":89.0,"y":66.05},{"s":"3 stage (1−rec)","x":88.5,"y":65.7},{"s":"3 stage (1−rec)","x":90.6,"y":65.4},{"s":"3 stage (1−rec)","x":91.6,"y":65.7},
{"s":"3 stage (1−rec)","x":86.2,"y":66.15},{"s":"3 stage (1−rec)","x":86.7,"y":66.1},{"s":"3 stage (1−rec)","x":87.2,"y":66.05},{"s":"3 stage (1−rec)","x":87.7,"y":66.0},{"s":"3 stage (1−rec)","x":88.1,"y":65.9},{"s":"3 stage (1−rec)","x":88.4,"y":65.8},{"s":"3 stage (1−rec)","x":88.9,"y":65.75},{"s":"3 stage (1−rec)","x":89.3,"y":65.7},{"s":"3 stage (1−rec)","x":89.7,"y":65.6},{"s":"3 stage (1−rec)","x":90.2,"y":65.55},{"s":"3 stage (1−rec)","x":90.6,"y":65.5},{"s":"3 stage (1−rec)","x":91.1,"y":65.65},{"s":"3 stage (1−rec)","x":91.3,"y":65.35},{"s":"3 stage (1−rec)","x":91.7,"y":65.4},{"s":"3 stage (1−rec)","x":92.1,"y":65.35},{"s":"3 stage (1−rec)","x":86.9,"y":66.0},{"s":"3 stage (1−rec)","x":87.4,"y":65.95},{"s":"3 stage (1−rec)","x":87.9,"y":65.85},{"s":"3 stage (1−rec)","x":88.3,"y":65.6},{"s":"3 stage (1−rec)","x":89.1,"y":65.55},{"s":"3 stage (1−rec)","x":89.9,"y":65.5},{"s":"3 stage (1−rec)","x":90.4,"y":65.3},{"s":"3 stage (1−rec)","x":91.9,"y":65.6},{"s":"3 stage (1−rec)","x":90.8,"y":65.7},{"s":"3 stage (1−rec)","x":89.4,"y":66.05},{"s":"3 stage (1−rec)","x":88.7,"y":66.0},{"s":"3 stage (1−rec)","x":87.9,"y":66.15},{"s":"3 stage (1−rec)","x":86.6,"y":66.28}
],
"p3": [
{"s":"2 stage","x":71.4,"y":68.4},{"s":"2 stage","x":72.1,"y":67.3},{"s":"2 stage","x":72.5,"y":64.8},{"s":"2 stage","x":73.0,"y":63.3},{"s":"2 stage","x":73.5,"y":63.3},{"s":"2 stage","x":73.9,"y":61.5},{"s":"2 stage","x":74.0,"y":61.1},{"s":"2 stage","x":74.1,"y":60.7},{"s":"2 stage","x":74.3,"y":60.3},{"s":"2 stage","x":74.6,"y":60.5},{"s":"2 stage","x":74.5,"y":59.9},{"s":"2 stage","x":74.7,"y":59.6},{"s":"2 stage","x":74.9,"y":59.3},{"s":"2 stage","x":75.0,"y":58.9},{"s":"2 stage","x":75.1,"y":58.6},{"s":"2 stage","x":75.3,"y":58.8},{"s":"2 stage","x":75.4,"y":58.2},{"s":"2 stage","x":75.3,"y":57.7},{"s":"2 stage","x":75.6,"y":57.9},{"s":"2 stage","x":75.7,"y":58.3},{"s":"2 stage","x":75.8,"y":57.3},{"s":"2 stage","x":75.9,"y":57.0},{"s":"2 stage","x":76.0,"y":56.7},{"s":"2 stage","x":76.1,"y":57.4},{"s":"2 stage","x":76.2,"y":56.4},{"s":"2 stage","x":76.3,"y":58.0},{"s":"2 stage","x":76.4,"y":56.0},{"s":"2 stage","x":76.5,"y":55.2},{"s":"2 stage","x":76.6,"y":56.3},{"s":"2 stage","x":76.7,"y":55.7},{"s":"2 stage","x":76.8,"y":55.4},{"s":"2 stage","x":77.0,"y":55.0},{"s":"2 stage","x":77.1,"y":55.6},{"s":"2 stage","x":77.2,"y":54.6},{"s":"2 stage","x":77.3,"y":54.9},{"s":"2 stage","x":77.4,"y":54.3},{"s":"2 stage","x":77.5,"y":54.6},{"s":"2 stage","x":77.6,"y":53.9},{"s":"2 stage","x":77.8,"y":55.2},{"s":"2 stage","x":77.8,"y":54.3},{"s":"2 stage","x":77.9,"y":53.5},{"s":"2 stage","x":78.0,"y":53.8},{"s":"2 stage","x":78.1,"y":52.9},{"s":"2 stage","x":78.2,"y":53.3},{"s":"2 stage","x":78.3,"y":52.5},{"s":"2 stage","x":78.4,"y":52.8},{"s":"2 stage","x":78.5,"y":52.0},{"s":"2 stage","x":78.6,"y":52.4},{"s":"2 stage","x":78.7,"y":51.5},{"s":"2 stage","x":78.8,"y":51.9},{"s":"2 stage","x":78.9,"y":51.1},{"s":"2 stage","x":79.0,"y":51.4},{"s":"2 stage","x":79.1,"y":50.7},{"s":"2 stage","x":79.2,"y":51.0},{"s":"2 stage","x":79.3,"y":50.4},{"s":"2 stage","x":79.4,"y":50.7},{"s":"2 stage","x":79.5,"y":50.1},{"s":"2 stage","x":79.6,"y":50.4},{"s":"2 stage","x":79.7,"y":49.8},{"s":"2 stage","x":79.8,"y":50.1},{"s":"2 stage","x":79.9,"y":49.5},{"s":"2 stage","x":80.0,"y":50.9},{"s":"2 stage","x":80.1,"y":49.8},{"s":"2 stage","x":80.2,"y":49.2},{"s":"2 stage","x":80.3,"y":49.5},{"s":"2 stage","x":80.4,"y":48.9},{"s":"2 stage","x":80.5,"y":49.2},{"s":"2 stage","x":80.6,"y":48.7},{"s":"2 stage","x":80.7,"y":48.9},{"s":"2 stage","x":80.8,"y":48.4},{"s":"2 stage","x":80.9,"y":48.7},{"s":"2 stage","x":81.0,"y":48.2},{"s":"2 stage","x":81.1,"y":48.5},{"s":"2 stage","x":81.2,"y":49.1},{"s":"2 stage","x":81.3,"y":48.0},{"s":"2 stage","x":81.4,"y":47.8},{"s":"2 stage","x":81.5,"y":48.3},{"s":"2 stage","x":81.6,"y":49.3},{"s":"2 stage","x":81.7,"y":47.7},{"s":"2 stage","x":81.8,"y":48.0},{"s":"2 stage","x":81.9,"y":47.5},{"s":"2 stage","x":82.0,"y":47.8},{"s":"2 stage","x":82.1,"y":48.8},{"s":"2 stage","x":82.2,"y":47.3},{"s":"2 stage","x":82.3,"y":47.6},{"s":"2 stage","x":82.4,"y":47.2},{"s":"2 stage","x":82.5,"y":47.5},{"s":"2 stage","x":82.6,"y":47.1},{"s":"2 stage","x":82.7,"y":47.4},{"s":"2 stage","x":82.8,"y":48.1},{"s":"2 stage","x":82.9,"y":48.5},{"s":"2 stage","x":83.0,"y":47.0},{"s":"2 stage","x":83.1,"y":47.3},{"s":"2 stage","x":83.2,"y":46.9},{"s":"2 stage","x":83.3,"y":47.6},{"s":"2 stage","x":83.4,"y":46.8},{"s":"2 stage","x":83.5,"y":47.1},{"s":"2 stage","x":83.6,"y":47.4},{"s":"2 stage","x":83.7,"y":46.9},{"s":"2 stage","x":83.8,"y":47.7},{"s":"2 stage","x":83.9,"y":48.1},{"s":"2 stage","x":84.0,"y":47.5},{"s":"2 stage","x":84.1,"y":48.5},{"s":"2 stage","x":84.2,"y":48.0},{"s":"2 stage","x":84.3,"y":48.9},{"s":"2 stage","x":84.4,"y":47.8},{"s":"2 stage","x":84.5,"y":49.0},{"s":"2 stage","x":84.6,"y":49.2},{"s":"2 stage","x":84.7,"y":49.0},{"s":"2 stage","x":84.8,"y":50.3},{"s":"2 stage","x":85.0,"y":53.2},{"s":"2 stage","x":85.2,"y":51.9},
{"s":"2 stage","x":81.0,"y":47.8},{"s":"2 stage","x":81.5,"y":47.6},{"s":"2 stage","x":82.0,"y":47.2},{"s":"2 stage","x":82.5,"y":47.0},{"s":"2 stage","x":83.0,"y":47.6},{"s":"2 stage","x":83.5,"y":47.6},{"s":"2 stage","x":84.0,"y":47.8},{"s":"2 stage","x":84.3,"y":47.5},{"s":"2 stage","x":83.3,"y":46.6},{"s":"2 stage","x":82.8,"y":46.8},{"s":"2 stage","x":80.5,"y":48.4},{"s":"2 stage","x":80.0,"y":49.0},{"s":"2 stage","x":79.5,"y":49.8},{"s":"2 stage","x":79.0,"y":50.5},{"s":"2 stage","x":78.5,"y":51.5},{"s":"2 stage","x":78.0,"y":52.4},{"s":"2 stage","x":77.5,"y":53.5},{"s":"2 stage","x":77.0,"y":54.5},{"s":"2 stage","x":76.5,"y":55.7},{"s":"2 stage","x":76.0,"y":56.2},{"s":"2 stage","x":75.5,"y":57.3},{"s":"2 stage","x":75.0,"y":58.1},{"s":"2 stage","x":74.5,"y":59.2},
{"s":"3 stage (CC)","x":71.2,"y":72.1},{"s":"3 stage (CC)","x":71.4,"y":71.3},{"s":"3 stage (CC)","x":73.9,"y":65.5},{"s":"3 stage (CC)","x":76.7,"y":57.3},{"s":"3 stage (CC)","x":77.5,"y":56.3},{"s":"3 stage (CC)","x":77.6,"y":56.0},{"s":"3 stage (CC)","x":77.8,"y":55.0},{"s":"3 stage (CC)","x":78.3,"y":56.4},{"s":"3 stage (CC)","x":80.2,"y":50.1},{"s":"3 stage (CC)","x":82.0,"y":45.7},{"s":"3 stage (CC)","x":82.8,"y":46.8},{"s":"3 stage (CC)","x":83.4,"y":44.8},{"s":"3 stage (CC)","x":84.6,"y":41.8},{"s":"3 stage (CC)","x":85.3,"y":40.9},{"s":"3 stage (CC)","x":85.6,"y":40.5},{"s":"3 stage (CC)","x":85.8,"y":39.9},{"s":"3 stage (CC)","x":86.0,"y":39.6},{"s":"3 stage (CC)","x":86.4,"y":39.2},{"s":"3 stage (CC)","x":86.8,"y":38.8},{"s":"3 stage (CC)","x":87.2,"y":38.6},{"s":"3 stage (CC)","x":87.5,"y":39.6},{"s":"3 stage (CC)","x":87.8,"y":37.8},{"s":"3 stage (CC)","x":88.0,"y":37.6},{"s":"3 stage (CC)","x":88.3,"y":37.4},{"s":"3 stage (CC)","x":88.6,"y":36.9},{"s":"3 stage (CC)","x":88.9,"y":36.3},{"s":"3 stage (CC)","x":89.0,"y":38.6},{"s":"3 stage (CC)","x":89.3,"y":36.1},{"s":"3 stage (CC)","x":89.6,"y":35.7},{"s":"3 stage (CC)","x":90.0,"y":35.4},{"s":"3 stage (CC)","x":90.3,"y":35.1},{"s":"3 stage (CC)","x":90.6,"y":34.9},{"s":"3 stage (CC)","x":91.0,"y":34.5},{"s":"3 stage (CC)","x":91.3,"y":34.3},{"s":"3 stage (CC)","x":91.6,"y":34.0},{"s":"3 stage (CC)","x":92.0,"y":33.7},{"s":"3 stage (CC)","x":92.3,"y":33.4},{"s":"3 stage (CC)","x":92.6,"y":33.1},{"s":"3 stage (CC)","x":93.0,"y":32.8},{"s":"3 stage (CC)","x":93.3,"y":32.6},{"s":"3 stage (CC)","x":93.6,"y":32.5},{"s":"3 stage (CC)","x":93.9,"y":32.6},{"s":"3 stage (CC)","x":94.2,"y":33.0},{"s":"3 stage (CC)","x":94.5,"y":33.8},{"s":"3 stage (CC)","x":94.7,"y":35.0},{"s":"3 stage (CC)","x":94.9,"y":36.5},{"s":"3 stage (CC)","x":95.0,"y":38.0},{"s":"3 stage (CC)","x":95.1,"y":39.5},{"s":"3 stage (CC)","x":95.2,"y":40.8},{"s":"3 stage (CC)","x":95.3,"y":41.5},{"s":"3 stage (CC)","x":95.4,"y":42.5},{"s":"3 stage (CC)","x":95.5,"y":43.2},{"s":"3 stage (CC)","x":95.5,"y":44.7},{"s":"3 stage (CC)","x":95.6,"y":50.1},{"s":"3 stage (CC)","x":95.7,"y":51.5},{"s":"3 stage (CC)","x":90.0,"y":36.0},{"s":"3 stage (CC)","x":91.0,"y":35.2},{"s":"3 stage (CC)","x":92.0,"y":34.5},{"s":"3 stage (CC)","x":93.0,"y":33.5},{"s":"3 stage (CC)","x":93.5,"y":34.2},{"s":"3 stage (CC)","x":92.5,"y":34.0},{"s":"3 stage (CC)","x":91.5,"y":35.5},{"s":"3 stage (CC)","x":90.5,"y":35.8},{"s":"3 stage (CC)","x":89.5,"y":36.8},{"s":"3 stage (CC)","x":88.5,"y":37.9},{"s":"3 stage (CC)","x":94.0,"y":33.6},{"s":"3 stage (CC)","x":94.5,"y":34.5},{"s":"3 stage (CC)","x":93.3,"y":32.2},{"s":"3 stage (CC)","x":92.8,"y":32.4},{"s":"3 stage (CC)","x":94.9,"y":39.0},{"s":"3 stage (CC)","x":95.2,"y":42.0},{"s":"3 stage (CC)","x":94.8,"y":37.5},{"s":"3 stage (CC)","x":94.3,"y":32.7},{"s":"3 stage (CC)","x":93.8,"y":33.1},{"s":"3 stage (CC)","x":92.2,"y":33.0},{"s":"3 stage (CC)","x":91.8,"y":33.6},{"s":"3 stage (CC)","x":91.2,"y":34.0},
{"s":"3 stage (CC)","x":85.9,"y":40.3},{"s":"3 stage (CC)","x":86.2,"y":39.6},{"s":"3 stage (CC)","x":86.6,"y":39.0},{"s":"3 stage (CC)","x":87.0,"y":38.9},{"s":"3 stage (CC)","x":87.3,"y":38.2},{"s":"3 stage (CC)","x":87.6,"y":38.0},{"s":"3 stage (CC)","x":88.1,"y":37.2},{"s":"3 stage (CC)","x":88.4,"y":36.8},{"s":"3 stage (CC)","x":88.7,"y":37.3},{"s":"3 stage (CC)","x":89.1,"y":36.6},{"s":"3 stage (CC)","x":89.4,"y":35.9},{"s":"3 stage (CC)","x":89.8,"y":35.6},{"s":"3 stage (CC)","x":90.2,"y":35.6},{"s":"3 stage (CC)","x":90.4,"y":34.8},{"s":"3 stage (CC)","x":90.8,"y":35.3},{"s":"3 stage (CC)","x":91.1,"y":34.7},{"s":"3 stage (CC)","x":91.4,"y":34.0},{"s":"3 stage (CC)","x":91.9,"y":34.2},{"s":"3 stage (CC)","x":92.1,"y":33.3},{"s":"3 stage (CC)","x":92.4,"y":33.8},{"s":"3 stage (CC)","x":92.7,"y":33.5},{"s":"3 stage (CC)","x":92.9,"y":33.0},{"s":"3 stage (CC)","x":93.1,"y":32.4},{"s":"3 stage (CC)","x":93.4,"y":33.0},{"s":"3 stage (CC)","x":93.7,"y":33.4},{"s":"3 stage (CC)","x":93.9,"y":32.3},{"s":"3 stage (CC)","x":94.1,"y":33.2},{"s":"3 stage (CC)","x":94.4,"y":33.5},{"s":"3 stage (CC)","x":94.6,"y":34.0},{"s":"3 stage (CC)","x":94.8,"y":36.0},{"s":"3 stage (CC)","x":95.0,"y":37.0},{"s":"3 stage (CC)","x":95.1,"y":38.5},{"s":"3 stage (CC)","x":95.3,"y":40.2},{"s":"3 stage (CC)","x":95.4,"y":41.0},{"s":"3 stage (CC)","x":94.9,"y":35.5},{"s":"3 stage (CC)","x":94.6,"y":33.2},
{"s":"3 stage (1−rec)","x":72.3,"y":68.7},{"s":"3 stage (1−rec)","x":72.9,"y":68.1},{"s":"3 stage (1−rec)","x":76.4,"y":58.8},{"s":"3 stage (1−rec)","x":77.8,"y":53.3},{"s":"3 stage (1−rec)","x":78.0,"y":53.9},{"s":"3 stage (1−rec)","x":78.2,"y":53.5},{"s":"3 stage (1−rec)","x":78.6,"y":53.3},{"s":"3 stage (1−rec)","x":78.8,"y":51.3},{"s":"3 stage (1−rec)","x":79.0,"y":52.3},{"s":"3 stage (1−rec)","x":79.2,"y":50.5},{"s":"3 stage (1−rec)","x":79.3,"y":52.9},{"s":"3 stage (1−rec)","x":79.8,"y":50.3},{"s":"3 stage (1−rec)","x":80.3,"y":48.3},{"s":"3 stage (1−rec)","x":80.8,"y":48.6},{"s":"3 stage (1−rec)","x":80.8,"y":47.0},{"s":"3 stage (1−rec)","x":81.2,"y":46.2},{"s":"3 stage (1−rec)","x":81.5,"y":44.8},{"s":"3 stage (1−rec)","x":81.6,"y":49.0},{"s":"3 stage (1−rec)","x":82.0,"y":44.8},{"s":"3 stage (1−rec)","x":82.4,"y":44.5},{"s":"3 stage (1−rec)","x":82.6,"y":45.0},{"s":"3 stage (1−rec)","x":82.7,"y":44.3},{"s":"3 stage (1−rec)","x":83.0,"y":42.7},{"s":"3 stage (1−rec)","x":83.2,"y":45.4},{"s":"3 stage (1−rec)","x":83.9,"y":41.2},{"s":"3 stage (1−rec)","x":84.2,"y":42.6},{"s":"3 stage (1−rec)","x":84.2,"y":43.8},{"s":"3 stage (1−rec)","x":84.3,"y":40.6},{"s":"3 stage (1−rec)","x":84.5,"y":44.0},{"s":"3 stage (1−rec)","x":85.0,"y":41.9},{"s":"3 stage (1−rec)","x":85.0,"y":40.0},{"s":"3 stage (1−rec)","x":85.2,"y":39.5},{"s":"3 stage (1−rec)","x":85.6,"y":40.5},{"s":"3 stage (1−rec)","x":85.7,"y":38.8},{"s":"3 stage (1−rec)","x":86.0,"y":38.5},{"s":"3 stage (1−rec)","x":86.2,"y":40.0},{"s":"3 stage (1−rec)","x":86.4,"y":39.0},{"s":"3 stage (1−rec)","x":86.8,"y":39.5},{"s":"3 stage (1−rec)","x":87.0,"y":38.2},{"s":"3 stage (1−rec)","x":87.2,"y":38.9},{"s":"3 stage (1−rec)","x":87.5,"y":38.5},{"s":"3 stage (1−rec)","x":87.6,"y":41.5},{"s":"3 stage (1−rec)","x":88.0,"y":40.9},{"s":"3 stage (1−rec)","x":88.2,"y":37.8},{"s":"3 stage (1−rec)","x":88.5,"y":38.2},{"s":"3 stage (1−rec)","x":88.8,"y":37.6},{"s":"3 stage (1−rec)","x":89.0,"y":38.4},{"s":"3 stage (1−rec)","x":89.3,"y":37.5},{"s":"3 stage (1−rec)","x":89.6,"y":37.2},{"s":"3 stage (1−rec)","x":90.0,"y":39.5},{"s":"3 stage (1−rec)","x":90.0,"y":37.0},{"s":"3 stage (1−rec)","x":90.2,"y":38.2},{"s":"3 stage (1−rec)","x":90.5,"y":36.8},{"s":"3 stage (1−rec)","x":90.8,"y":36.6},{"s":"3 stage (1−rec)","x":91.0,"y":36.3},{"s":"3 stage (1−rec)","x":91.3,"y":37.1},{"s":"3 stage (1−rec)","x":91.5,"y":36.5},{"s":"3 stage (1−rec)","x":91.8,"y":36.2},{"s":"3 stage (1−rec)","x":92.0,"y":37.3},{"s":"3 stage (1−rec)","x":92.2,"y":38.6},{"s":"3 stage (1−rec)","x":92.5,"y":39.4},{"s":"3 stage (1−rec)","x":92.6,"y":40.0},{"s":"3 stage (1−rec)","x":92.7,"y":40.8},{"s":"3 stage (1−rec)","x":92.8,"y":41.5},{"s":"3 stage (1−rec)","x":93.0,"y":41.2},{"s":"3 stage (1−rec)","x":93.1,"y":42.8},{"s":"3 stage (1−rec)","x":93.3,"y":44.0},{"s":"3 stage (1−rec)","x":93.4,"y":51.5},{"s":"3 stage (1−rec)","x":87.8,"y":38.0},{"s":"3 stage (1−rec)","x":88.4,"y":37.5},{"s":"3 stage (1−rec)","x":89.8,"y":36.8},{"s":"3 stage (1−rec)","x":91.2,"y":36.0},{"s":"3 stage (1−rec)","x":92.3,"y":36.8},{"s":"3 stage (1−rec)","x":86.6,"y":38.2},{"s":"3 stage (1−rec)","x":89.0,"y":37.0},{"s":"3 stage (1−rec)","x":86.9,"y":37.8},{"s":"3 stage (1−rec)","x":89.4,"y":38.0},{"s":"3 stage (1−rec)","x":90.6,"y":37.5},{"s":"3 stage (1−rec)","x":91.7,"y":37.0},{"s":"3 stage (1−rec)","x":92.0,"y":36.1},
{"s":"3 stage (1−rec)","x":85.4,"y":40.2},{"s":"3 stage (1−rec)","x":85.9,"y":39.2},{"s":"3 stage (1−rec)","x":86.3,"y":38.6},{"s":"3 stage (1−rec)","x":86.7,"y":38.9},{"s":"3 stage (1−rec)","x":87.1,"y":38.5},{"s":"3 stage (1−rec)","x":87.4,"y":37.9},{"s":"3 stage (1−rec)","x":87.9,"y":38.6},{"s":"3 stage (1−rec)","x":88.3,"y":38.4},{"s":"3 stage (1−rec)","x":88.6,"y":37.3},{"s":"3 stage (1−rec)","x":88.9,"y":38.0},{"s":"3 stage (1−rec)","x":89.2,"y":37.3},{"s":"3 stage (1−rec)","x":89.5,"y":37.8},{"s":"3 stage (1−rec)","x":89.9,"y":37.4},{"s":"3 stage (1−rec)","x":90.3,"y":36.9},{"s":"3 stage (1−rec)","x":90.7,"y":37.2},{"s":"3 stage (1−rec)","x":91.0,"y":37.0},{"s":"3 stage (1−rec)","x":91.4,"y":36.6},{"s":"3 stage (1−rec)","x":91.6,"y":36.2},{"s":"3 stage (1−rec)","x":91.9,"y":36.7},{"s":"3 stage (1−rec)","x":92.1,"y":36.5},{"s":"3 stage (1−rec)","x":92.4,"y":37.4},{"s":"3 stage (1−rec)","x":92.8,"y":39.0},{"s":"3 stage (1−rec)","x":92.9,"y":40.5},{"s":"3 stage (1−rec)","x":93.0,"y":41.8},{"s":"3 stage (1−rec)","x":88.1,"y":39.0},{"s":"3 stage (1−rec)","x":87.3,"y":39.6},{"s":"3 stage (1−rec)","x":86.5,"y":39.5},{"s":"3 stage (1−rec)","x":85.8,"y":39.8}
],
"p4": [
{"s":"2 stage","x":71.4,"y":108.8},{"s":"2 stage","x":72.1,"y":109.2},{"s":"2 stage","x":72.5,"y":107.3},{"s":"2 stage","x":73.0,"y":106.7},{"s":"2 stage","x":73.5,"y":107.6},{"s":"2 stage","x":73.8,"y":106.0},{"s":"2 stage","x":73.9,"y":106.1},{"s":"2 stage","x":74.0,"y":105.5},{"s":"2 stage","x":74.1,"y":105.8},{"s":"2 stage","x":74.3,"y":105.3},{"s":"2 stage","x":74.5,"y":106.1},{"s":"2 stage","x":74.6,"y":105.2},{"s":"2 stage","x":74.8,"y":105.0},{"s":"2 stage","x":74.9,"y":106.3},{"s":"2 stage","x":75.0,"y":104.9},{"s":"2 stage","x":75.2,"y":106.5},{"s":"2 stage","x":75.3,"y":105.4},{"s":"2 stage","x":75.4,"y":104.9},{"s":"2 stage","x":75.5,"y":106.7},{"s":"2 stage","x":75.6,"y":105.1},{"s":"2 stage","x":75.8,"y":104.9},{"s":"2 stage","x":75.9,"y":105.3},{"s":"2 stage","x":76.0,"y":106.6},{"s":"2 stage","x":76.1,"y":106.1},{"s":"2 stage","x":76.2,"y":105.4},{"s":"2 stage","x":76.3,"y":107.7},{"s":"2 stage","x":76.4,"y":104.8},{"s":"2 stage","x":76.5,"y":105.0},{"s":"2 stage","x":76.6,"y":106.6},{"s":"2 stage","x":76.7,"y":104.6},{"s":"2 stage","x":76.8,"y":105.1},{"s":"2 stage","x":76.9,"y":105.3},{"s":"2 stage","x":77.0,"y":104.8},{"s":"2 stage","x":77.1,"y":105.0},{"s":"2 stage","x":77.2,"y":105.4},{"s":"2 stage","x":77.3,"y":104.7},{"s":"2 stage","x":77.4,"y":104.9},{"s":"2 stage","x":77.5,"y":105.2},{"s":"2 stage","x":77.6,"y":106.0},{"s":"2 stage","x":77.7,"y":104.8},{"s":"2 stage","x":77.8,"y":107.4},{"s":"2 stage","x":77.9,"y":105.1},{"s":"2 stage","x":78.0,"y":106.2},{"s":"2 stage","x":78.0,"y":104.6},{"s":"2 stage","x":78.1,"y":104.9},{"s":"2 stage","x":78.2,"y":105.3},{"s":"2 stage","x":78.3,"y":104.5},{"s":"2 stage","x":78.4,"y":104.8},{"s":"2 stage","x":78.5,"y":105.9},{"s":"2 stage","x":78.6,"y":104.6},{"s":"2 stage","x":78.7,"y":105.0},{"s":"2 stage","x":78.8,"y":105.6},{"s":"2 stage","x":78.9,"y":104.7},{"s":"2 stage","x":79.0,"y":104.4},{"s":"2 stage","x":79.1,"y":104.9},{"s":"2 stage","x":79.2,"y":105.1},{"s":"2 stage","x":79.3,"y":104.6},{"s":"2 stage","x":79.4,"y":104.8},{"s":"2 stage","x":79.5,"y":105.2},{"s":"2 stage","x":79.6,"y":104.5},{"s":"2 stage","x":79.7,"y":104.9},{"s":"2 stage","x":79.8,"y":106.4},{"s":"2 stage","x":79.9,"y":105.1},{"s":"2 stage","x":80.0,"y":104.6},{"s":"2 stage","x":80.1,"y":104.9},{"s":"2 stage","x":80.2,"y":105.0},{"s":"2 stage","x":80.3,"y":104.7},{"s":"2 stage","x":80.4,"y":105.6},{"s":"2 stage","x":80.5,"y":105.0},{"s":"2 stage","x":80.6,"y":104.8},{"s":"2 stage","x":80.7,"y":105.3},{"s":"2 stage","x":80.8,"y":106.0},{"s":"2 stage","x":80.9,"y":104.9},{"s":"2 stage","x":81.0,"y":105.2},{"s":"2 stage","x":81.1,"y":105.5},{"s":"2 stage","x":81.2,"y":105.6},{"s":"2 stage","x":81.3,"y":105.0},{"s":"2 stage","x":81.4,"y":106.2},{"s":"2 stage","x":81.5,"y":107.0},{"s":"2 stage","x":81.5,"y":105.4},{"s":"2 stage","x":81.6,"y":107.4},{"s":"2 stage","x":81.7,"y":105.7},{"s":"2 stage","x":81.8,"y":105.8},{"s":"2 stage","x":81.9,"y":105.3},{"s":"2 stage","x":82.0,"y":106.0},{"s":"2 stage","x":82.1,"y":107.4},{"s":"2 stage","x":82.1,"y":105.5},{"s":"2 stage","x":82.2,"y":105.9},{"s":"2 stage","x":82.3,"y":106.5},{"s":"2 stage","x":82.4,"y":105.7},{"s":"2 stage","x":82.5,"y":106.6},{"s":"2 stage","x":82.6,"y":106.0},{"s":"2 stage","x":82.7,"y":107.2},{"s":"2 stage","x":82.8,"y":106.3},{"s":"2 stage","x":82.9,"y":106.8},{"s":"2 stage","x":83.0,"y":106.2},{"s":"2 stage","x":83.1,"y":107.0},{"s":"2 stage","x":83.2,"y":106.6},{"s":"2 stage","x":83.3,"y":107.4},{"s":"2 stage","x":83.4,"y":106.9},{"s":"2 stage","x":83.5,"y":107.9},{"s":"2 stage","x":83.6,"y":107.3},{"s":"2 stage","x":83.7,"y":108.0},{"s":"2 stage","x":83.8,"y":107.6},{"s":"2 stage","x":83.9,"y":108.8},{"s":"2 stage","x":84.0,"y":108.4},{"s":"2 stage","x":84.1,"y":109.1},{"s":"2 stage","x":84.2,"y":108.7},{"s":"2 stage","x":84.2,"y":109.5},{"s":"2 stage","x":84.3,"y":110.3},{"s":"2 stage","x":84.4,"y":110.0},{"s":"2 stage","x":84.5,"y":110.8},{"s":"2 stage","x":84.6,"y":109.7},{"s":"2 stage","x":84.7,"y":110.0},{"s":"2 stage","x":84.8,"y":111.0},{"s":"2 stage","x":85.0,"y":113.6},{"s":"2 stage","x":85.2,"y":112.2},
{"s":"2 stage","x":78.5,"y":104.5},{"s":"2 stage","x":79.0,"y":104.7},{"s":"2 stage","x":79.5,"y":104.5},{"s":"2 stage","x":80.0,"y":104.9},{"s":"2 stage","x":80.5,"y":104.6},{"s":"2 stage","x":81.0,"y":104.7},{"s":"2 stage","x":81.5,"y":104.9},{"s":"2 stage","x":82.0,"y":105.1},{"s":"2 stage","x":82.5,"y":105.4},{"s":"2 stage","x":83.0,"y":105.7},{"s":"2 stage","x":83.5,"y":106.2},{"s":"2 stage","x":82.8,"y":105.6},{"s":"2 stage","x":82.2,"y":105.2},{"s":"2 stage","x":81.7,"y":105.1},{"s":"2 stage","x":81.2,"y":104.9},{"s":"2 stage","x":80.7,"y":104.7},{"s":"2 stage","x":80.2,"y":104.4},{"s":"2 stage","x":79.7,"y":104.6},{"s":"2 stage","x":79.2,"y":104.4},{"s":"2 stage","x":78.7,"y":104.5},{"s":"2 stage","x":77.9,"y":104.6},{"s":"2 stage","x":77.2,"y":104.7},{"s":"2 stage","x":76.5,"y":104.7},{"s":"2 stage","x":75.7,"y":104.9},{"s":"2 stage","x":83.3,"y":106.0},{"s":"2 stage","x":83.7,"y":106.6},{"s":"2 stage","x":84.0,"y":107.2},{"s":"2 stage","x":84.3,"y":107.9},{"s":"2 stage","x":84.5,"y":108.6},{"s":"2 stage","x":84.7,"y":109.4},
{"s":"3 stage (CC)","x":71.2,"y":111.2},{"s":"3 stage (CC)","x":71.4,"y":111.5},{"s":"3 stage (CC)","x":73.9,"y":109.7},{"s":"3 stage (CC)","x":76.7,"y":106.8},{"s":"3 stage (CC)","x":77.5,"y":107.4},{"s":"3 stage (CC)","x":77.6,"y":107.2},{"s":"3 stage (CC)","x":77.8,"y":105.7},{"s":"3 stage (CC)","x":78.3,"y":109.0},{"s":"3 stage (CC)","x":80.2,"y":104.9},{"s":"3 stage (CC)","x":82.0,"y":104.3},{"s":"3 stage (CC)","x":82.8,"y":107.6},{"s":"3 stage (CC)","x":83.4,"y":105.1},{"s":"3 stage (CC)","x":84.0,"y":104.3},{"s":"3 stage (CC)","x":84.6,"y":103.9},{"s":"3 stage (CC)","x":85.0,"y":104.0},{"s":"3 stage (CC)","x":85.3,"y":104.1},{"s":"3 stage (CC)","x":85.6,"y":104.3},{"s":"3 stage (CC)","x":86.0,"y":104.5},{"s":"3 stage (CC)","x":86.3,"y":104.6},{"s":"3 stage (CC)","x":86.6,"y":104.5},{"s":"3 stage (CC)","x":87.0,"y":104.6},{"s":"3 stage (CC)","x":87.2,"y":106.4},{"s":"3 stage (CC)","x":87.4,"y":104.8},{"s":"3 stage (CC)","x":87.8,"y":104.9},{"s":"3 stage (CC)","x":88.2,"y":104.6},{"s":"3 stage (CC)","x":88.6,"y":104.4},{"s":"3 stage (CC)","x":89.0,"y":104.8},{"s":"3 stage (CC)","x":89.4,"y":104.9},{"s":"3 stage (CC)","x":89.8,"y":105.0},{"s":"3 stage (CC)","x":90.2,"y":105.1},{"s":"3 stage (CC)","x":90.6,"y":105.1},{"s":"3 stage (CC)","x":91.0,"y":105.2},{"s":"3 stage (CC)","x":91.4,"y":105.3},{"s":"3 stage (CC)","x":91.8,"y":105.4},{"s":"3 stage (CC)","x":92.2,"y":105.5},{"s":"3 stage (CC)","x":92.6,"y":105.5},{"s":"3 stage (CC)","x":93.0,"y":105.8},{"s":"3 stage (CC)","x":93.3,"y":106.0},{"s":"3 stage (CC)","x":93.6,"y":106.2},{"s":"3 stage (CC)","x":93.8,"y":106.4},{"s":"3 stage (CC)","x":94.0,"y":106.8},{"s":"3 stage (CC)","x":94.2,"y":107.2},{"s":"3 stage (CC)","x":94.4,"y":107.8},{"s":"3 stage (CC)","x":94.6,"y":108.6},{"s":"3 stage (CC)","x":94.7,"y":109.5},{"s":"3 stage (CC)","x":94.8,"y":110.3},{"s":"3 stage (CC)","x":94.9,"y":111.0},{"s":"3 stage (CC)","x":95.0,"y":111.5},{"s":"3 stage (CC)","x":95.0,"y":112.3},{"s":"3 stage (CC)","x":95.1,"y":112.8},{"s":"3 stage (CC)","x":95.2,"y":113.3},{"s":"3 stage (CC)","x":95.2,"y":114.0},{"s":"3 stage (CC)","x":95.3,"y":114.5},{"s":"3 stage (CC)","x":95.3,"y":114.8},{"s":"3 stage (CC)","x":95.4,"y":116.0},{"s":"3 stage (CC)","x":95.5,"y":116.4},{"s":"3 stage (CC)","x":95.6,"y":117.6},{"s":"3 stage (CC)","x":88.0,"y":105.3},{"s":"3 stage (CC)","x":89.0,"y":105.5},{"s":"3 stage (CC)","x":90.0,"y":105.6},{"s":"3 stage (CC)","x":91.0,"y":105.6},{"s":"3 stage (CC)","x":92.0,"y":105.8},{"s":"3 stage (CC)","x":93.0,"y":106.3},{"s":"3 stage (CC)","x":92.5,"y":105.2},{"s":"3 stage (CC)","x":91.5,"y":104.9},{"s":"3 stage (CC)","x":90.5,"y":104.9},{"s":"3 stage (CC)","x":89.5,"y":104.6},{"s":"3 stage (CC)","x":94.2,"y":108.6},{"s":"3 stage (CC)","x":93.2,"y":106.6},{"s":"3 stage (CC)","x":92.0,"y":105.0},{"s":"3 stage (CC)","x":93.5,"y":105.6},{"s":"3 stage (CC)","x":94.5,"y":107.0},{"s":"3 stage (CC)","x":94.9,"y":112.0},{"s":"3 stage (CC)","x":95.2,"y":114.6},{"s":"3 stage (CC)","x":94.3,"y":106.5},{"s":"3 stage (CC)","x":86.8,"y":105.1},
{"s":"3 stage (CC)","x":87.5,"y":104.3},{"s":"3 stage (CC)","x":87.9,"y":104.5},{"s":"3 stage (CC)","x":88.3,"y":104.9},{"s":"3 stage (CC)","x":88.7,"y":104.7},{"s":"3 stage (CC)","x":89.1,"y":105.1},{"s":"3 stage (CC)","x":89.6,"y":105.2},{"s":"3 stage (CC)","x":90.1,"y":105.3},{"s":"3 stage (CC)","x":90.4,"y":105.5},{"s":"3 stage (CC)","x":90.8,"y":105.4},{"s":"3 stage (CC)","x":91.2,"y":105.5},{"s":"3 stage (CC)","x":91.6,"y":105.6},{"s":"3 stage (CC)","x":91.9,"y":105.7},{"s":"3 stage (CC)","x":92.3,"y":105.8},{"s":"3 stage (CC)","x":92.8,"y":106.0},{"s":"3 stage (CC)","x":93.1,"y":106.1},{"s":"3 stage (CC)","x":93.4,"y":106.3},{"s":"3 stage (CC)","x":93.7,"y":106.5},{"s":"3 stage (CC)","x":93.9,"y":106.7},{"s":"3 stage (CC)","x":94.1,"y":107.0},{"s":"3 stage (CC)","x":94.3,"y":107.5},{"s":"3 stage (CC)","x":94.5,"y":108.2},{"s":"3 stage (CC)","x":94.6,"y":109.0},{"s":"3 stage (CC)","x":94.7,"y":110.0},{"s":"3 stage (CC)","x":94.8,"y":110.8},{"s":"3 stage (CC)","x":94.9,"y":111.5},{"s":"3 stage (CC)","x":95.0,"y":113.0},{"s":"3 stage (CC)","x":95.1,"y":113.8},{"s":"3 stage (CC)","x":95.1,"y":114.3},{"s":"3 stage (CC)","x":93.6,"y":105.3},{"s":"3 stage (CC)","x":93.0,"y":105.1},{"s":"3 stage (CC)","x":92.3,"y":104.7},{"s":"3 stage (CC)","x":91.3,"y":104.6},{"s":"3 stage (CC)","x":90.3,"y":104.6},{"s":"3 stage (CC)","x":89.3,"y":104.3},{"s":"3 stage (CC)","x":88.6,"y":104.1},{"s":"3 stage (CC)","x":94.0,"y":105.8},
{"s":"3 stage (1−rec)","x":72.2,"y":110.7},{"s":"3 stage (1−rec)","x":72.8,"y":111.1},{"s":"3 stage (1−rec)","x":76.4,"y":109.3},{"s":"3 stage (1−rec)","x":77.8,"y":104.3},{"s":"3 stage (1−rec)","x":78.0,"y":106.7},{"s":"3 stage (1−rec)","x":78.3,"y":105.9},{"s":"3 stage (1−rec)","x":78.5,"y":106.5},{"s":"3 stage (1−rec)","x":78.6,"y":104.0},{"s":"3 stage (1−rec)","x":78.8,"y":103.9},{"s":"3 stage (1−rec)","x":79.0,"y":104.6},{"s":"3 stage (1−rec)","x":79.2,"y":103.8},{"s":"3 stage (1−rec)","x":79.2,"y":107.5},{"s":"3 stage (1−rec)","x":79.8,"y":104.3},{"s":"3 stage (1−rec)","x":80.3,"y":103.7},{"s":"3 stage (1−rec)","x":80.7,"y":104.2},{"s":"3 stage (1−rec)","x":80.8,"y":103.5},{"s":"3 stage (1−rec)","x":81.2,"y":103.3},{"s":"3 stage (1−rec)","x":81.5,"y":103.1},{"s":"3 stage (1−rec)","x":81.6,"y":107.8},{"s":"3 stage (1−rec)","x":82.0,"y":103.1},{"s":"3 stage (1−rec)","x":82.4,"y":103.2},{"s":"3 stage (1−rec)","x":82.6,"y":103.7},{"s":"3 stage (1−rec)","x":82.8,"y":103.4},{"s":"3 stage (1−rec)","x":83.0,"y":103.3},{"s":"3 stage (1−rec)","x":83.2,"y":106.5},{"s":"3 stage (1−rec)","x":83.8,"y":103.2},{"s":"3 stage (1−rec)","x":84.2,"y":102.9},{"s":"3 stage (1−rec)","x":84.3,"y":103.6},{"s":"3 stage (1−rec)","x":84.3,"y":104.3},{"s":"3 stage (1−rec)","x":84.5,"y":103.2},{"s":"3 stage (1−rec)","x":84.6,"y":107.5},{"s":"3 stage (1−rec)","x":85.0,"y":103.3},{"s":"3 stage (1−rec)","x":85.1,"y":103.9},{"s":"3 stage (1−rec)","x":85.2,"y":103.5},{"s":"3 stage (1−rec)","x":85.8,"y":103.8},{"s":"3 stage (1−rec)","x":86.0,"y":102.9},{"s":"3 stage (1−rec)","x":86.2,"y":103.4},{"s":"3 stage (1−rec)","x":86.3,"y":104.8},{"s":"3 stage (1−rec)","x":86.4,"y":103.6},{"s":"3 stage (1−rec)","x":86.6,"y":105.0},{"s":"3 stage (1−rec)","x":86.8,"y":104.2},{"s":"3 stage (1−rec)","x":87.0,"y":105.8},{"s":"3 stage (1−rec)","x":87.0,"y":104.0},{"s":"3 stage (1−rec)","x":87.2,"y":103.7},{"s":"3 stage (1−rec)","x":87.5,"y":104.4},{"s":"3 stage (1−rec)","x":87.6,"y":108.9},{"s":"3 stage (1−rec)","x":88.0,"y":108.8},{"s":"3 stage (1−rec)","x":88.0,"y":105.5},{"s":"3 stage (1−rec)","x":88.2,"y":105.0},{"s":"3 stage (1−rec)","x":88.4,"y":104.8},{"s":"3 stage (1−rec)","x":88.6,"y":105.8},{"s":"3 stage (1−rec)","x":88.8,"y":105.4},{"s":"3 stage (1−rec)","x":89.0,"y":106.1},{"s":"3 stage (1−rec)","x":89.2,"y":105.8},{"s":"3 stage (1−rec)","x":89.4,"y":106.4},{"s":"3 stage (1−rec)","x":89.6,"y":105.5},{"s":"3 stage (1−rec)","x":89.8,"y":106.0},{"s":"3 stage (1−rec)","x":90.0,"y":106.8},{"s":"3 stage (1−rec)","x":90.2,"y":106.1},{"s":"3 stage (1−rec)","x":90.4,"y":107.4},{"s":"3 stage (1−rec)","x":90.6,"y":106.5},{"s":"3 stage (1−rec)","x":90.8,"y":106.9},{"s":"3 stage (1−rec)","x":91.0,"y":106.3},{"s":"3 stage (1−rec)","x":91.2,"y":106.8},{"s":"3 stage (1−rec)","x":91.4,"y":107.1},{"s":"3 stage (1−rec)","x":91.6,"y":108.2},{"s":"3 stage (1−rec)","x":91.8,"y":107.4},{"s":"3 stage (1−rec)","x":92.0,"y":110.5},{"s":"3 stage (1−rec)","x":92.0,"y":107.7},{"s":"3 stage (1−rec)","x":92.2,"y":106.8},{"s":"3 stage (1−rec)","x":92.3,"y":107.9},{"s":"3 stage (1−rec)","x":92.4,"y":109.0},{"s":"3 stage (1−rec)","x":92.5,"y":109.5},{"s":"3 stage (1−rec)","x":92.6,"y":110.0},{"s":"3 stage (1−rec)","x":92.7,"y":110.4},{"s":"3 stage (1−rec)","x":92.8,"y":111.1},{"s":"3 stage (1−rec)","x":92.9,"y":112.7},{"s":"3 stage (1−rec)","x":93.0,"y":112.4},{"s":"3 stage (1−rec)","x":93.0,"y":113.3},{"s":"3 stage (1−rec)","x":93.2,"y":114.1},{"s":"3 stage (1−rec)","x":93.4,"y":115.2},{"s":"3 stage (1−rec)","x":88.5,"y":104.5},{"s":"3 stage (1−rec)","x":89.0,"y":105.0},{"s":"3 stage (1−rec)","x":90.0,"y":105.7},{"s":"3 stage (1−rec)","x":91.0,"y":105.8},{"s":"3 stage (1−rec)","x":87.8,"y":104.2},{"s":"3 stage (1−rec)","x":89.5,"y":106.3},{"s":"3 stage (1−rec)","x":90.5,"y":107.3},{"s":"3 stage (1−rec)","x":91.5,"y":106.0},{"s":"3 stage (1−rec)","x":88.3,"y":106.2},{"s":"3 stage (1−rec)","x":89.2,"y":104.6},{"s":"3 stage (1−rec)","x":90.3,"y":105.3},{"s":"3 stage (1−rec)","x":91.3,"y":107.8},
{"s":"3 stage (1−rec)","x":87.3,"y":105.1},{"s":"3 stage (1−rec)","x":87.7,"y":105.6},{"s":"3 stage (1−rec)","x":88.1,"y":106.1},{"s":"3 stage (1−rec)","x":88.4,"y":105.5},{"s":"3 stage (1−rec)","x":88.8,"y":106.3},{"s":"3 stage (1−rec)","x":89.1,"y":106.6},{"s":"3 stage (1−rec)","x":89.3,"y":105.3},{"s":"3 stage (1−rec)","x":89.7,"y":106.7},{"s":"3 stage (1−rec)","x":90.1,"y":107.1},{"s":"3 stage (1−rec)","x":90.3,"y":106.0},{"s":"3 stage (1−rec)","x":90.7,"y":107.0},{"s":"3 stage (1−rec)","x":91.1,"y":107.4},{"s":"3 stage (1−rec)","x":91.3,"y":106.5},{"s":"3 stage (1−rec)","x":91.7,"y":107.0},{"s":"3 stage (1−rec)","x":91.9,"y":107.9},{"s":"3 stage (1−rec)","x":92.1,"y":108.2},{"s":"3 stage (1−rec)","x":92.3,"y":108.7},{"s":"3 stage (1−rec)","x":87.3,"y":104.6},{"s":"3 stage (1−rec)","x":88.2,"y":104.4},{"s":"3 stage (1−rec)","x":89.9,"y":105.1},{"s":"3 stage (1−rec)","x":90.9,"y":105.9},{"s":"3 stage (1−rec)","x":91.9,"y":106.5},{"s":"3 stage (1−rec)","x":92.5,"y":108.8},{"s":"3 stage (1−rec)","x":92.7,"y":109.8},{"s":"3 stage (1−rec)","x":92.9,"y":111.4},{"s":"3 stage (1−rec)","x":87.0,"y":104.9},{"s":"3 stage (1−rec)","x":86.5,"y":104.2},{"s":"3 stage (1−rec)","x":86.1,"y":103.9},{"s":"3 stage (1−rec)","x":85.5,"y":103.7}
],
"tx": [
{"p":1,"x":91.8,"y":89.1,"t":"best solution with respect to"},{"p":1,"x":91.8,"y":87.95,"t":"energy efficiency of separation"},
{"p":1,"x":84.7,"y":84.75,"t":"best solution with respect to"},{"p":1,"x":84.7,"y":83.6,"t":"overall energy efficiency"},
{"p":2,"x":84.8,"y":66.82,"t":"best solution with respect to"},{"p":2,"x":84.8,"y":66.63,"t":"overall energy efficiency"},
{"p":2,"x":99.75,"y":66.63,"t":"best solution with respect to"},{"p":2,"x":99.75,"y":66.44,"t":"energy efficiency"},{"p":2,"x":99.75,"y":66.25,"t":"of separation"},
{"p":3,"x":82.45,"y":38.35,"t":"best solution with respect to"},{"p":3,"x":82.45,"y":36.24,"t":"SNG production cost"},
{"p":3,"x":99.66,"y":40.77,"t":"best solution"},{"p":3,"x":99.66,"y":38.65,"t":"with respect to"},{"p":3,"x":99.66,"y":36.57,"t":"raw SNG separation cost"},
{"p":4,"x":82.43,"y":101.65,"t":"best solution with respect to"},{"p":4,"x":82.43,"y":100.71,"t":"SNG production cost"},
{"p":4,"x":99.2,"y":103.55,"t":"best solution"},{"p":4,"x":99.2,"y":102.6,"t":"with respect to"},{"p":4,"x":99.2,"y":101.65,"t":"raw SNG separation cost"}
],
"vl": [
{"p":1,"x":86.5,"y":65,"y2":82.45},{"p":1,"x":93.8,"y":65,"y2":87.38},
{"p":2,"x":86.5,"y":63,"y2":66.43},{"p":2,"x":93.83,"y":63,"y2":65.98},
{"p":3,"x":84.08,"y":30,"y2":41.0},{"p":3,"x":93.18,"y":30,"y2":33.2},
{"p":4,"x":84.09,"y":100,"y2":103.0},{"p":4,"x":93.2,"y":100,"y2":105.8}
],
"ar": [
{"p":1,"id":"1a","x":92.0,"y":87.65,"x2":93.46,"y2":87.22},{"p":1,"id":"1b","x":85.06,"y":83.15,"x2":86.11,"y2":82.47},
{"p":2,"id":"2a","x":85.08,"y":66.55,"x2":86.31,"y2":66.43},{"p":2,"id":"2b","x":94.5,"y":66.18,"x2":93.94,"y2":65.98},
{"p":3,"id":"3a","x":82.8,"y":39.1,"x2":83.8,"y2":40.2},{"p":3,"id":"3b","x":93.74,"y":36.1,"x2":93.3,"y2":32.97},
{"p":4,"id":"4a","x":82.7,"y":102.0,"x2":83.8,"y2":102.7},{"p":4,"id":"4b","x":94.04,"y":104.1,"x2":93.53,"y2":105.1}
]
},
"vconcat": [
{"hconcat": [
{"width": 514, "height": 405,
 "layer": [
  {"data": {"name": "p1"},
   "mark": {"type": "point", "filled": false, "strokeWidth": 2, "opacity": 1},
   "encoding": {
    "x": {"field": "x", "type": "quantitative", "scale": {"domain": [70, 100], "nice": false, "zero": false}, "axis": {"title": "SNG recovery in separation [%]", "values": [70, 75, 80, 85, 90, 95, 100]}},
    "y": {"field": "y", "type": "quantitative", "scale": {"domain": [65, 90], "nice": false, "zero": false}, "axis": {"title": "energy efficiency of separation [%]", "values": [65, 70, 75, 80, 85, 90], "minExtent": 24, "maxExtent": 24, "titlePadding": 5}},
    "color": {"field": "s", "type": "nominal", "scale": {"domain": ["2 stage", "3 stage (CC)", "3 stage (1−rec)"], "range": ["#111111", "#5cb83a", "#e8202a"]}, "legend": {"title": null, "orient": "bottom-right"}},
    "shape": {"field": "s", "type": "nominal", "scale": {"domain": ["2 stage", "3 stage (CC)", "3 stage (1−rec)"], "range": ["circle", "M-1,-1L1,1M-1,1L1,-1", "triangle-up"]}, "legend": {"title": null, "orient": "bottom-right"}},
    "size": {"field": "s", "type": "nominal", "scale": {"domain": ["2 stage", "3 stage (CC)", "3 stage (1−rec)"], "range": [50, 36, 95]}, "legend": {"title": null, "orient": "bottom-right"}}
   }},
  {"data": {"name": "vl"}, "transform": [{"filter": "datum.p == 1"}], "mark": {"type": "rule", "strokeDash": [6, 4], "color": "#111", "strokeWidth": 1.2}, "encoding": {"x": {"field": "x", "type": "quantitative"}, "y": {"field": "y", "type": "quantitative"}, "y2": {"field": "y2"}}},
  {"data": {"name": "ar"}, "transform": [{"filter": "datum.p == 1"}], "mark": {"type": "rule", "color": "#111", "strokeWidth": 1}, "encoding": {"x": {"field": "x", "type": "quantitative"}, "y": {"field": "y", "type": "quantitative"}, "x2": {"field": "x2"}, "y2": {"field": "y2"}}},
  {"data": {"name": "ar"}, "transform": [{"filter": "datum.id == '1a'"}], "mark": {"type": "point", "shape": "triangle-up", "filled": true, "color": "#111", "size": 30, "angle": 106, "opacity": 1}, "encoding": {"x": {"field": "x2", "type": "quantitative"}, "y": {"field": "y2", "type": "quantitative"}}},
  {"data": {"name": "ar"}, "transform": [{"filter": "datum.id == '1b'"}], "mark": {"type": "point", "shape": "triangle-up", "filled": true, "color": "#111", "size": 30, "angle": 121, "opacity": 1}, "encoding": {"x": {"field": "x2", "type": "quantitative"}, "y": {"field": "y2", "type": "quantitative"}}},
  {"data": {"name": "tx"}, "transform": [{"filter": "datum.p == 1"}], "mark": {"type": "text", "align": "right", "baseline": "middle", "fontSize": 14.5, "color": "#111", "font": "Lato"}, "encoding": {"x": {"field": "x", "type": "quantitative"}, "y": {"field": "y", "type": "quantitative"}, "text": {"field": "t"}}}
 ]},
{"width": 514, "height": 405,
 "layer": [
  {"data": {"name": "p2"},
   "mark": {"type": "point", "filled": false, "strokeWidth": 2, "opacity": 1},
   "encoding": {
    "x": {"field": "x", "type": "quantitative", "scale": {"domain": [70, 100], "nice": false, "zero": false}, "axis": {"title": "SNG recovery in separation [%]", "values": [70, 75, 80, 85, 90, 95, 100]}},
    "y": {"field": "y", "type": "quantitative", "scale": {"domain": [63, 67], "nice": false, "zero": false}, "axis": {"title": "energy efficiency [%]", "values": [63, 63.5, 64, 64.5, 65, 65.5, 66, 66.5, 67], "format": ".1f", "minExtent": 38, "maxExtent": 38, "titlePadding": 3}},
    "color": {"field": "s", "type": "nominal", "scale": {"domain": ["2 stage", "3 stage (CC)", "3 stage (1−rec)"], "range": ["#111111", "#5cb83a", "#e8202a"]}, "legend": {"title": null, "orient": "bottom-left"}},
    "shape": {"field": "s", "type": "nominal", "scale": {"domain": ["2 stage", "3 stage (CC)", "3 stage (1−rec)"], "range": ["circle", "M-1,-1L1,1M-1,1L1,-1", "triangle-up"]}, "legend": {"title": null, "orient": "bottom-left"}},
    "size": {"field": "s", "type": "nominal", "scale": {"domain": ["2 stage", "3 stage (CC)", "3 stage (1−rec)"], "range": [50, 36, 95]}, "legend": {"title": null, "orient": "bottom-left"}}
   }},
  {"data": {"name": "vl"}, "transform": [{"filter": "datum.p == 2"}], "mark": {"type": "rule", "strokeDash": [6, 4], "color": "#111", "strokeWidth": 1.2}, "encoding": {"x": {"field": "x", "type": "quantitative"}, "y": {"field": "y", "type": "quantitative"}, "y2": {"field": "y2"}}},
  {"data": {"name": "ar"}, "transform": [{"filter": "datum.p == 2"}], "mark": {"type": "rule", "color": "#111", "strokeWidth": 1}, "encoding": {"x": {"field": "x", "type": "quantitative"}, "y": {"field": "y", "type": "quantitative"}, "x2": {"field": "x2"}, "y2": {"field": "y2"}}},
  {"data": {"name": "ar"}, "transform": [{"filter": "datum.id == '2a'"}], "mark": {"type": "point", "shape": "triangle-up", "filled": true, "color": "#111", "size": 30, "angle": 120, "opacity": 1}, "encoding": {"x": {"field": "x2", "type": "quantitative"}, "y": {"field": "y2", "type": "quantitative"}}},
  {"data": {"name": "ar"}, "transform": [{"filter": "datum.id == '2b'"}], "mark": {"type": "point", "shape": "triangle-up", "filled": true, "color": "#111", "size": 30, "angle": 205, "opacity": 1}, "encoding": {"x": {"field": "x2", "type": "quantitative"}, "y": {"field": "y2", "type": "quantitative"}}},
  {"data": {"name": "tx"}, "transform": [{"filter": "datum.p == 2"}], "mark": {"type": "text", "align": "right", "baseline": "middle", "fontSize": 14.5, "color": "#111", "font": "Lato"}, "encoding": {"x": {"field": "x", "type": "quantitative"}, "y": {"field": "y", "type": "quantitative"}, "text": {"field": "t"}}}
 ]}
], "spacing": 99, "bounds": "flush"},
{"hconcat": [
{"width": 514, "height": 405,
 "layer": [
  {"data": {"name": "p3"},
   "mark": {"type": "point", "filled": false, "strokeWidth": 2, "opacity": 1},
   "encoding": {
    "x": {"field": "x", "type": "quantitative", "scale": {"domain": [70, 100], "nice": false, "zero": false}, "axis": {"title": "SNG recovery in separation [%]", "values": [70, 75, 80, 85, 90, 95, 100]}},
    "y": {"field": "y", "type": "quantitative", "scale": {"domain": [30, 75], "nice": false, "zero": false}, "axis": {"title": "raw SNG separation cost [€/MWh]", "values": [30, 35, 40, 45, 50, 55, 60, 65, 70, 75], "minExtent": 24, "maxExtent": 24, "titlePadding": 5}},
    "color": {"field": "s", "type": "nominal", "scale": {"domain": ["2 stage", "3 stage (CC)", "3 stage (1−rec)"], "range": ["#111111", "#5cb83a", "#e8202a"]}, "legend": {"title": null, "orient": "top-right"}},
    "shape": {"field": "s", "type": "nominal", "scale": {"domain": ["2 stage", "3 stage (CC)", "3 stage (1−rec)"], "range": ["circle", "M-1,-1L1,1M-1,1L1,-1", "triangle-up"]}, "legend": {"title": null, "orient": "top-right"}},
    "size": {"field": "s", "type": "nominal", "scale": {"domain": ["2 stage", "3 stage (CC)", "3 stage (1−rec)"], "range": [50, 36, 95]}, "legend": {"title": null, "orient": "top-right"}}
   }},
  {"data": {"name": "vl"}, "transform": [{"filter": "datum.p == 3"}], "mark": {"type": "rule", "strokeDash": [6, 4], "color": "#111", "strokeWidth": 1.2}, "encoding": {"x": {"field": "x", "type": "quantitative"}, "y": {"field": "y", "type": "quantitative"}, "y2": {"field": "y2"}}},
  {"data": {"name": "ar"}, "transform": [{"filter": "datum.p == 3"}], "mark": {"type": "rule", "color": "#111", "strokeWidth": 1}, "encoding": {"x": {"field": "x", "type": "quantitative"}, "y": {"field": "y", "type": "quantitative"}, "x2": {"field": "x2"}, "y2": {"field": "y2"}}},
  {"data": {"name": "ar"}, "transform": [{"filter": "datum.id == '3a'"}], "mark": {"type": "point", "shape": "triangle-up", "filled": true, "color": "#111", "size": 30, "angle": 60, "opacity": 1}, "encoding": {"x": {"field": "x2", "type": "quantitative"}, "y": {"field": "y2", "type": "quantitative"}}},
  {"data": {"name": "ar"}, "transform": [{"filter": "datum.id == '3b'"}], "mark": {"type": "point", "shape": "triangle-up", "filled": true, "color": "#111", "size": 30, "angle": 195, "opacity": 1}, "encoding": {"x": {"field": "x2", "type": "quantitative"}, "y": {"field": "y2", "type": "quantitative"}}},
  {"data": {"name": "tx"}, "transform": [{"filter": "datum.p == 3"}], "mark": {"type": "text", "align": "right", "baseline": "middle", "fontSize": 14.5, "color": "#111", "font": "Lato"}, "encoding": {"x": {"field": "x", "type": "quantitative"}, "y": {"field": "y", "type": "quantitative"}, "text": {"field": "t"}}}
 ]},
{"width": 514, "height": 405,
 "layer": [
  {"data": {"name": "p4"},
   "mark": {"type": "point", "filled": false, "strokeWidth": 2, "opacity": 1},
   "encoding": {
    "x": {"field": "x", "type": "quantitative", "scale": {"domain": [70, 100], "nice": false, "zero": false}, "axis": {"title": "SNG recovery in separation [%]", "values": [70, 75, 80, 85, 90, 95, 100]}},
    "y": {"field": "y", "type": "quantitative", "scale": {"domain": [100, 120], "nice": false, "zero": false}, "axis": {"title": "SNG production cost [€/MWh]", "values": [100, 102, 104, 106, 108, 110, 112, 114, 116, 118, 120], "minExtent": 36, "maxExtent": 36, "titlePadding": 4}},
    "color": {"field": "s", "type": "nominal", "scale": {"domain": ["2 stage", "3 stage (CC)", "3 stage (1−rec)"], "range": ["#111111", "#5cb83a", "#e8202a"]}, "legend": {"title": null, "orient": "top-left"}},
    "shape": {"field": "s", "type": "nominal", "scale": {"domain": ["2 stage", "3 stage (CC)", "3 stage (1−rec)"], "range": ["circle", "M-1,-1L1,1M-1,1L1,-1", "triangle-up"]}, "legend": {"title": null, "orient": "top-left"}},
    "size": {"field": "s", "type": "nominal", "scale": {"domain": ["2 stage", "3 stage (CC)", "3 stage (1−rec)"], "range": [50, 36, 95]}, "legend": {"title": null, "orient": "top-left"}}
   }},
  {"data": {"name": "vl"}, "transform": [{"filter": "datum.p == 4"}], "mark": {"type": "rule", "strokeDash": [6, 4], "color": "#111", "strokeWidth": 1.2}, "encoding": {"x": {"field": "x", "type": "quantitative"}, "y": {"field": "y", "type": "quantitative"}, "y2": {"field": "y2"}}},
  {"data": {"name": "ar"}, "transform": [{"filter": "datum.p == 4"}], "mark": {"type": "rule", "color": "#111", "strokeWidth": 1}, "encoding": {"x": {"field": "x", "type": "quantitative"}, "y": {"field": "y", "type": "quantitative"}, "x2": {"field": "x2"}, "y2": {"field": "y2"}}},
  {"data": {"name": "ar"}, "transform": [{"filter": "datum.id == '4a'"}], "mark": {"type": "point", "shape": "triangle-up", "filled": true, "color": "#111", "size": 30, "angle": 53, "opacity": 1}, "encoding": {"x": {"field": "x2", "type": "quantitative"}, "y": {"field": "y2", "type": "quantitative"}}},
  {"data": {"name": "ar"}, "transform": [{"filter": "datum.id == '4b'"}], "mark": {"type": "point", "shape": "triangle-up", "filled": true, "color": "#111", "size": 30, "angle": 336, "opacity": 1}, "encoding": {"x": {"field": "x2", "type": "quantitative"}, "y": {"field": "y2", "type": "quantitative"}}},
  {"data": {"name": "tx"}, "transform": [{"filter": "datum.p == 4"}], "mark": {"type": "text", "align": "right", "baseline": "middle", "fontSize": 14.5, "color": "#111", "font": "Lato"}, "encoding": {"x": {"field": "x", "type": "quantitative"}, "y": {"field": "y", "type": "quantitative"}, "text": {"field": "t"}}}
 ]}
], "spacing": 99, "bounds": "flush"}
]
}
